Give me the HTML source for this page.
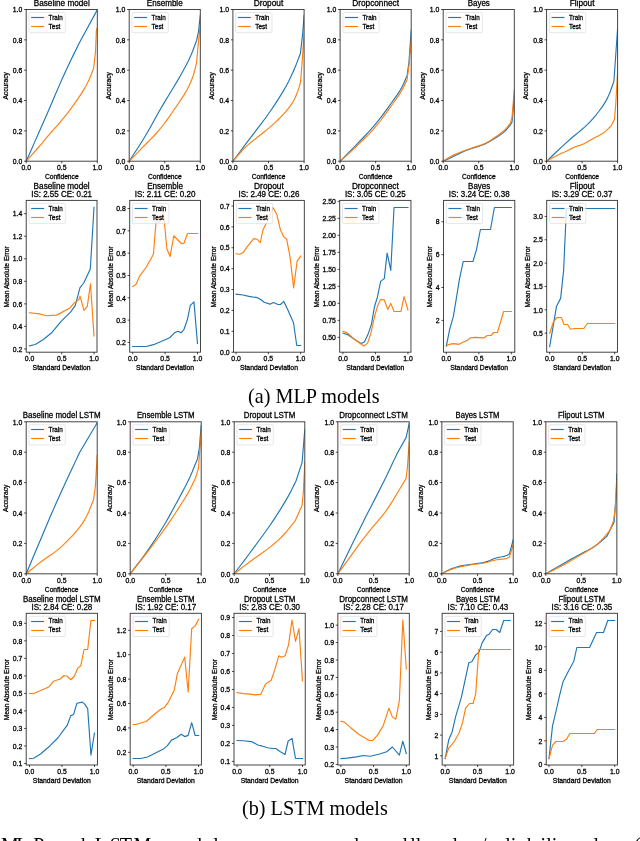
<!DOCTYPE html>
<html><head><meta charset="utf-8"><style>
html,body{margin:0;padding:0;background:#fff;}
body{width:640px;height:841px;overflow:hidden;position:relative;}
svg{position:absolute;left:0;top:0;will-change:transform;}
svg text{font-family:"Liberation Sans",sans-serif;fill:#000;stroke:#000;stroke-width:0.28px;}
svg text.serif{font-family:"Liberation Serif",serif;stroke:none;}
.cap{position:absolute;font-family:"Liberation Serif",serif;color:#000;white-space:nowrap;line-height:1;}
</style></head><body>
<svg width="640" height="841" viewBox="0 0 640 841">
<g><clipPath id="c0"><rect x="26.20" y="9.50" width="71.10" height="151.70"/></clipPath><polyline clip-path="url(#c0)" points="26.20,161.20 27.53,158.18 30.20,152.15 34.20,143.11 39.53,131.05 44.64,119.40 49.53,108.15 54.20,97.32 58.64,86.89 62.87,77.25 66.89,68.42 70.69,60.38 74.28,53.13 76.97,47.70 78.77,44.08 79.67,42.27 97.30,9.80" fill="none" stroke="#1f77b4" stroke-width="1.15" stroke-linejoin="round" stroke-linecap="square"/><polyline clip-path="url(#c0)" points="26.20,161.20 26.99,160.32 28.57,158.55 30.95,155.91 34.11,152.38 37.29,148.75 40.49,145.02 43.71,141.18 46.94,137.23 49.77,133.87 52.19,131.08 54.20,128.87 55.80,127.24 57.88,124.92 60.43,121.90 63.47,118.19 66.99,113.79 70.56,109.11 74.17,104.14 77.82,98.89 81.52,93.35 84.70,88.16 87.36,83.30 89.51,78.79 91.15,74.62 92.38,71.49 93.19,69.40 93.60,68.36 95.45,52.58 96.38,30.28 97.30,27.70" fill="none" stroke="#ff7f0e" stroke-width="1.15" stroke-linejoin="round" stroke-linecap="square"/><rect x="29.00" y="12.50" width="36.3" height="20.2" rx="1.3" fill="#fff" fill-opacity="0.8" stroke="#ccc" stroke-opacity="0.8" stroke-width="0.6"/><line x1="31.10" y1="17.50" x2="44.10" y2="17.50" stroke="#1f77b4" stroke-width="1.15" stroke-linecap="butt"/><text x="48.60" y="19.60" font-size="6.72" text-anchor="start" textLength="14.06" lengthAdjust="spacingAndGlyphs">Train</text><line x1="31.10" y1="26.50" x2="44.10" y2="26.50" stroke="#ff7f0e" stroke-width="1.15" stroke-linecap="butt"/><text x="48.60" y="28.60" font-size="6.72" text-anchor="start" textLength="11.81" lengthAdjust="spacingAndGlyphs">Test</text><rect x="26.20" y="9.50" width="71.10" height="151.70" fill="none" stroke="#3c3c3c" stroke-width="0.95"/><line x1="24.10" y1="161.20" x2="26.20" y2="161.20" stroke="#000" stroke-width="0.7"/><text x="22.30" y="163.90" font-size="6.72" text-anchor="end" textLength="9.54" lengthAdjust="spacingAndGlyphs">0.0</text><line x1="24.10" y1="130.86" x2="26.20" y2="130.86" stroke="#000" stroke-width="0.7"/><text x="22.30" y="133.56" font-size="6.72" text-anchor="end" textLength="9.54" lengthAdjust="spacingAndGlyphs">0.2</text><line x1="24.10" y1="100.52" x2="26.20" y2="100.52" stroke="#000" stroke-width="0.7"/><text x="22.30" y="103.22" font-size="6.72" text-anchor="end" textLength="9.54" lengthAdjust="spacingAndGlyphs">0.4</text><line x1="24.10" y1="70.18" x2="26.20" y2="70.18" stroke="#000" stroke-width="0.7"/><text x="22.30" y="72.88" font-size="6.72" text-anchor="end" textLength="9.54" lengthAdjust="spacingAndGlyphs">0.6</text><line x1="24.10" y1="39.84" x2="26.20" y2="39.84" stroke="#000" stroke-width="0.7"/><text x="22.30" y="42.54" font-size="6.72" text-anchor="end" textLength="9.54" lengthAdjust="spacingAndGlyphs">0.8</text><line x1="24.10" y1="9.50" x2="26.20" y2="9.50" stroke="#000" stroke-width="0.7"/><text x="22.30" y="12.20" font-size="6.72" text-anchor="end" textLength="9.54" lengthAdjust="spacingAndGlyphs">1.0</text><line x1="26.20" y1="161.20" x2="26.20" y2="163.30" stroke="#000" stroke-width="0.7"/><text x="26.20" y="170.40" font-size="6.72" text-anchor="middle" textLength="9.54" lengthAdjust="spacingAndGlyphs">0.0</text><line x1="61.75" y1="161.20" x2="61.75" y2="163.30" stroke="#000" stroke-width="0.7"/><text x="61.75" y="170.40" font-size="6.72" text-anchor="middle" textLength="9.54" lengthAdjust="spacingAndGlyphs">0.5</text><line x1="97.30" y1="161.20" x2="97.30" y2="163.30" stroke="#000" stroke-width="0.7"/><text x="97.30" y="170.40" font-size="6.72" text-anchor="middle" textLength="9.54" lengthAdjust="spacingAndGlyphs">1.0</text><text x="61.75" y="179.30" font-size="6.72" text-anchor="middle" textLength="33.74" lengthAdjust="spacingAndGlyphs">Confidence</text><text transform="translate(7.71,85.85) rotate(-90)" x="0" y="0" font-size="6.72" text-anchor="middle" textLength="27.50" lengthAdjust="spacingAndGlyphs">Accuracy</text><text x="61.75" y="6.00" font-size="8.18" text-anchor="middle" textLength="56.00" lengthAdjust="spacingAndGlyphs">Baseline model</text></g>
<g><clipPath id="c1"><rect x="129.20" y="9.50" width="71.10" height="151.70"/></clipPath><polyline clip-path="url(#c1)" points="129.20,161.20 130.22,159.63 132.27,156.48 135.33,151.76 139.42,145.46 143.47,138.94 147.49,132.19 151.47,125.21 155.42,118.00 159.48,110.81 163.66,103.62 167.95,96.44 172.36,89.28 176.36,82.62 179.95,76.48 183.13,70.84 185.90,65.72 188.39,60.78 190.59,56.02 192.51,51.45 194.15,47.05 195.38,43.75 196.19,41.55 196.60,40.45 198.45,32.10 200.30,15.42" fill="none" stroke="#1f77b4" stroke-width="1.15" stroke-linejoin="round" stroke-linecap="square"/><polyline clip-path="url(#c1)" points="129.20,161.20 130.11,160.26 131.92,158.38 134.64,155.57 138.27,151.81 142.03,147.95 145.93,143.99 149.97,139.92 154.15,135.75 158.44,130.95 162.85,125.50 167.37,119.43 172.01,112.71 175.95,106.98 179.20,102.22 181.74,98.43 183.59,95.63 185.39,92.66 187.13,89.53 188.82,86.24 190.45,82.79 191.91,79.27 193.19,75.69 194.29,72.04 195.22,68.32 195.91,65.53 196.37,63.68 196.60,62.75 198.45,41.36 200.30,24.67" fill="none" stroke="#ff7f0e" stroke-width="1.15" stroke-linejoin="round" stroke-linecap="square"/><rect x="132.00" y="12.50" width="36.3" height="20.2" rx="1.3" fill="#fff" fill-opacity="0.8" stroke="#ccc" stroke-opacity="0.8" stroke-width="0.6"/><line x1="134.10" y1="17.50" x2="147.10" y2="17.50" stroke="#1f77b4" stroke-width="1.15" stroke-linecap="butt"/><text x="151.60" y="19.60" font-size="6.72" text-anchor="start" textLength="14.06" lengthAdjust="spacingAndGlyphs">Train</text><line x1="134.10" y1="26.50" x2="147.10" y2="26.50" stroke="#ff7f0e" stroke-width="1.15" stroke-linecap="butt"/><text x="151.60" y="28.60" font-size="6.72" text-anchor="start" textLength="11.81" lengthAdjust="spacingAndGlyphs">Test</text><rect x="129.20" y="9.50" width="71.10" height="151.70" fill="none" stroke="#3c3c3c" stroke-width="0.95"/><line x1="127.10" y1="161.20" x2="129.20" y2="161.20" stroke="#000" stroke-width="0.7"/><text x="125.30" y="163.90" font-size="6.72" text-anchor="end" textLength="9.54" lengthAdjust="spacingAndGlyphs">0.0</text><line x1="127.10" y1="130.86" x2="129.20" y2="130.86" stroke="#000" stroke-width="0.7"/><text x="125.30" y="133.56" font-size="6.72" text-anchor="end" textLength="9.54" lengthAdjust="spacingAndGlyphs">0.2</text><line x1="127.10" y1="100.52" x2="129.20" y2="100.52" stroke="#000" stroke-width="0.7"/><text x="125.30" y="103.22" font-size="6.72" text-anchor="end" textLength="9.54" lengthAdjust="spacingAndGlyphs">0.4</text><line x1="127.10" y1="70.18" x2="129.20" y2="70.18" stroke="#000" stroke-width="0.7"/><text x="125.30" y="72.88" font-size="6.72" text-anchor="end" textLength="9.54" lengthAdjust="spacingAndGlyphs">0.6</text><line x1="127.10" y1="39.84" x2="129.20" y2="39.84" stroke="#000" stroke-width="0.7"/><text x="125.30" y="42.54" font-size="6.72" text-anchor="end" textLength="9.54" lengthAdjust="spacingAndGlyphs">0.8</text><line x1="127.10" y1="9.50" x2="129.20" y2="9.50" stroke="#000" stroke-width="0.7"/><text x="125.30" y="12.20" font-size="6.72" text-anchor="end" textLength="9.54" lengthAdjust="spacingAndGlyphs">1.0</text><line x1="129.20" y1="161.20" x2="129.20" y2="163.30" stroke="#000" stroke-width="0.7"/><text x="129.20" y="170.40" font-size="6.72" text-anchor="middle" textLength="9.54" lengthAdjust="spacingAndGlyphs">0.0</text><line x1="164.75" y1="161.20" x2="164.75" y2="163.30" stroke="#000" stroke-width="0.7"/><text x="164.75" y="170.40" font-size="6.72" text-anchor="middle" textLength="9.54" lengthAdjust="spacingAndGlyphs">0.5</text><line x1="200.30" y1="161.20" x2="200.30" y2="163.30" stroke="#000" stroke-width="0.7"/><text x="200.30" y="170.40" font-size="6.72" text-anchor="middle" textLength="9.54" lengthAdjust="spacingAndGlyphs">1.0</text><text x="164.75" y="179.30" font-size="6.72" text-anchor="middle" textLength="33.74" lengthAdjust="spacingAndGlyphs">Confidence</text><text transform="translate(110.71,85.85) rotate(-90)" x="0" y="0" font-size="6.72" text-anchor="middle" textLength="27.50" lengthAdjust="spacingAndGlyphs">Accuracy</text><text x="164.75" y="6.00" font-size="8.18" text-anchor="middle" textLength="35.80" lengthAdjust="spacingAndGlyphs">Ensemble</text></g>
<g><clipPath id="c2"><rect x="232.90" y="9.50" width="71.20" height="151.70"/></clipPath><polyline clip-path="url(#c2)" points="232.90,161.20 233.95,159.80 236.05,156.99 239.20,152.78 243.40,147.17 247.71,141.45 252.14,135.63 256.67,129.70 261.32,123.67 265.85,117.53 270.28,111.27 274.59,104.90 278.79,98.42 282.52,92.34 285.79,86.67 288.59,81.41 290.92,76.55 293.04,71.92 294.96,67.53 296.66,63.35 298.15,59.41 299.28,56.45 300.02,54.48 300.40,53.49 302.82,32.10 304.10,15.42" fill="none" stroke="#1f77b4" stroke-width="1.15" stroke-linejoin="round" stroke-linecap="square"/><polyline clip-path="url(#c2)" points="232.90,161.20 233.71,160.26 235.34,158.38 237.79,155.57 241.04,151.81 244.54,148.18 248.27,144.67 252.23,141.29 256.43,138.03 260.28,135.00 263.78,132.22 266.92,129.67 269.72,127.35 272.51,124.92 275.31,122.38 278.10,119.73 280.90,116.96 283.52,114.19 285.97,111.42 288.24,108.65 290.34,105.89 292.21,103.11 293.83,100.32 295.23,97.52 296.38,94.72 297.40,92.09 298.28,89.65 299.03,87.38 299.63,85.29 300.09,83.73 300.39,82.69 300.54,82.16 301.89,65.48 304.10,33.92" fill="none" stroke="#ff7f0e" stroke-width="1.15" stroke-linejoin="round" stroke-linecap="square"/><rect x="235.70" y="12.50" width="36.3" height="20.2" rx="1.3" fill="#fff" fill-opacity="0.8" stroke="#ccc" stroke-opacity="0.8" stroke-width="0.6"/><line x1="237.80" y1="17.50" x2="250.80" y2="17.50" stroke="#1f77b4" stroke-width="1.15" stroke-linecap="butt"/><text x="255.30" y="19.60" font-size="6.72" text-anchor="start" textLength="14.06" lengthAdjust="spacingAndGlyphs">Train</text><line x1="237.80" y1="26.50" x2="250.80" y2="26.50" stroke="#ff7f0e" stroke-width="1.15" stroke-linecap="butt"/><text x="255.30" y="28.60" font-size="6.72" text-anchor="start" textLength="11.81" lengthAdjust="spacingAndGlyphs">Test</text><rect x="232.90" y="9.50" width="71.20" height="151.70" fill="none" stroke="#3c3c3c" stroke-width="0.95"/><line x1="230.80" y1="161.20" x2="232.90" y2="161.20" stroke="#000" stroke-width="0.7"/><text x="229.00" y="163.90" font-size="6.72" text-anchor="end" textLength="9.54" lengthAdjust="spacingAndGlyphs">0.0</text><line x1="230.80" y1="130.86" x2="232.90" y2="130.86" stroke="#000" stroke-width="0.7"/><text x="229.00" y="133.56" font-size="6.72" text-anchor="end" textLength="9.54" lengthAdjust="spacingAndGlyphs">0.2</text><line x1="230.80" y1="100.52" x2="232.90" y2="100.52" stroke="#000" stroke-width="0.7"/><text x="229.00" y="103.22" font-size="6.72" text-anchor="end" textLength="9.54" lengthAdjust="spacingAndGlyphs">0.4</text><line x1="230.80" y1="70.18" x2="232.90" y2="70.18" stroke="#000" stroke-width="0.7"/><text x="229.00" y="72.88" font-size="6.72" text-anchor="end" textLength="9.54" lengthAdjust="spacingAndGlyphs">0.6</text><line x1="230.80" y1="39.84" x2="232.90" y2="39.84" stroke="#000" stroke-width="0.7"/><text x="229.00" y="42.54" font-size="6.72" text-anchor="end" textLength="9.54" lengthAdjust="spacingAndGlyphs">0.8</text><line x1="230.80" y1="9.50" x2="232.90" y2="9.50" stroke="#000" stroke-width="0.7"/><text x="229.00" y="12.20" font-size="6.72" text-anchor="end" textLength="9.54" lengthAdjust="spacingAndGlyphs">1.0</text><line x1="232.90" y1="161.20" x2="232.90" y2="163.30" stroke="#000" stroke-width="0.7"/><text x="232.90" y="170.40" font-size="6.72" text-anchor="middle" textLength="9.54" lengthAdjust="spacingAndGlyphs">0.0</text><line x1="268.50" y1="161.20" x2="268.50" y2="163.30" stroke="#000" stroke-width="0.7"/><text x="268.50" y="170.40" font-size="6.72" text-anchor="middle" textLength="9.54" lengthAdjust="spacingAndGlyphs">0.5</text><line x1="304.10" y1="161.20" x2="304.10" y2="163.30" stroke="#000" stroke-width="0.7"/><text x="304.10" y="170.40" font-size="6.72" text-anchor="middle" textLength="9.54" lengthAdjust="spacingAndGlyphs">1.0</text><text x="268.50" y="179.30" font-size="6.72" text-anchor="middle" textLength="33.74" lengthAdjust="spacingAndGlyphs">Confidence</text><text transform="translate(214.41,85.85) rotate(-90)" x="0" y="0" font-size="6.72" text-anchor="middle" textLength="27.50" lengthAdjust="spacingAndGlyphs">Accuracy</text><text x="268.50" y="6.00" font-size="8.18" text-anchor="middle" textLength="29.68" lengthAdjust="spacingAndGlyphs">Dropout</text></g>
<g><clipPath id="c3"><rect x="340.10" y="9.50" width="71.10" height="151.70"/></clipPath><polyline clip-path="url(#c3)" points="340.10,161.20 341.15,160.15 343.25,158.04 346.39,154.89 350.59,150.68 354.89,146.30 359.31,141.74 363.84,137.02 368.48,132.13 372.89,127.19 377.08,122.20 381.04,117.17 384.77,112.09 388.27,107.29 391.53,102.78 394.55,98.55 397.34,94.60 399.78,90.83 401.87,87.23 403.61,83.80 405.00,80.53 406.04,78.09 406.73,76.46 407.08,75.64 409.00,61.84 411.20,30.28" fill="none" stroke="#1f77b4" stroke-width="1.15" stroke-linejoin="round" stroke-linecap="square"/><polyline clip-path="url(#c3)" points="340.10,161.20 341.15,160.26 343.25,158.38 346.39,155.57 350.59,151.81 354.89,147.84 359.31,143.65 363.84,139.24 368.48,134.61 372.89,129.86 377.08,124.99 381.04,119.99 384.77,114.87 388.27,110.05 391.53,105.52 394.55,101.28 397.34,97.33 399.78,93.63 401.87,90.16 403.61,86.92 405.00,83.93 406.04,81.68 406.73,80.18 407.08,79.43 409.00,65.48 411.20,39.54" fill="none" stroke="#ff7f0e" stroke-width="1.15" stroke-linejoin="round" stroke-linecap="square"/><rect x="342.90" y="12.50" width="36.3" height="20.2" rx="1.3" fill="#fff" fill-opacity="0.8" stroke="#ccc" stroke-opacity="0.8" stroke-width="0.6"/><line x1="345.00" y1="17.50" x2="358.00" y2="17.50" stroke="#1f77b4" stroke-width="1.15" stroke-linecap="butt"/><text x="362.50" y="19.60" font-size="6.72" text-anchor="start" textLength="14.06" lengthAdjust="spacingAndGlyphs">Train</text><line x1="345.00" y1="26.50" x2="358.00" y2="26.50" stroke="#ff7f0e" stroke-width="1.15" stroke-linecap="butt"/><text x="362.50" y="28.60" font-size="6.72" text-anchor="start" textLength="11.81" lengthAdjust="spacingAndGlyphs">Test</text><rect x="340.10" y="9.50" width="71.10" height="151.70" fill="none" stroke="#3c3c3c" stroke-width="0.95"/><line x1="338.00" y1="161.20" x2="340.10" y2="161.20" stroke="#000" stroke-width="0.7"/><text x="336.20" y="163.90" font-size="6.72" text-anchor="end" textLength="9.54" lengthAdjust="spacingAndGlyphs">0.0</text><line x1="338.00" y1="130.86" x2="340.10" y2="130.86" stroke="#000" stroke-width="0.7"/><text x="336.20" y="133.56" font-size="6.72" text-anchor="end" textLength="9.54" lengthAdjust="spacingAndGlyphs">0.2</text><line x1="338.00" y1="100.52" x2="340.10" y2="100.52" stroke="#000" stroke-width="0.7"/><text x="336.20" y="103.22" font-size="6.72" text-anchor="end" textLength="9.54" lengthAdjust="spacingAndGlyphs">0.4</text><line x1="338.00" y1="70.18" x2="340.10" y2="70.18" stroke="#000" stroke-width="0.7"/><text x="336.20" y="72.88" font-size="6.72" text-anchor="end" textLength="9.54" lengthAdjust="spacingAndGlyphs">0.6</text><line x1="338.00" y1="39.84" x2="340.10" y2="39.84" stroke="#000" stroke-width="0.7"/><text x="336.20" y="42.54" font-size="6.72" text-anchor="end" textLength="9.54" lengthAdjust="spacingAndGlyphs">0.8</text><line x1="338.00" y1="9.50" x2="340.10" y2="9.50" stroke="#000" stroke-width="0.7"/><text x="336.20" y="12.20" font-size="6.72" text-anchor="end" textLength="9.54" lengthAdjust="spacingAndGlyphs">1.0</text><line x1="340.10" y1="161.20" x2="340.10" y2="163.30" stroke="#000" stroke-width="0.7"/><text x="340.10" y="170.40" font-size="6.72" text-anchor="middle" textLength="9.54" lengthAdjust="spacingAndGlyphs">0.0</text><line x1="375.65" y1="161.20" x2="375.65" y2="163.30" stroke="#000" stroke-width="0.7"/><text x="375.65" y="170.40" font-size="6.72" text-anchor="middle" textLength="9.54" lengthAdjust="spacingAndGlyphs">0.5</text><line x1="411.20" y1="161.20" x2="411.20" y2="163.30" stroke="#000" stroke-width="0.7"/><text x="411.20" y="170.40" font-size="6.72" text-anchor="middle" textLength="9.54" lengthAdjust="spacingAndGlyphs">1.0</text><text x="375.65" y="179.30" font-size="6.72" text-anchor="middle" textLength="33.74" lengthAdjust="spacingAndGlyphs">Confidence</text><text transform="translate(321.61,85.85) rotate(-90)" x="0" y="0" font-size="6.72" text-anchor="middle" textLength="27.50" lengthAdjust="spacingAndGlyphs">Accuracy</text><text x="375.65" y="6.00" font-size="8.18" text-anchor="middle" textLength="46.82" lengthAdjust="spacingAndGlyphs">Dropconnect</text></g>
<g><clipPath id="c4"><rect x="443.20" y="9.50" width="71.10" height="151.70"/></clipPath><polyline clip-path="url(#c4)" points="443.20,161.20 443.64,161.01 444.53,160.63 445.87,160.06 447.64,159.30 449.79,158.31 452.32,157.08 455.22,155.61 458.49,153.90 461.64,152.38 464.68,151.06 467.61,149.92 470.41,148.97 473.22,148.03 476.03,147.10 478.84,146.18 481.65,145.27 484.46,144.15 487.26,142.83 490.07,141.29 492.88,139.54 495.45,137.92 497.79,136.43 499.89,135.05 501.76,133.80 503.53,132.41 505.21,130.90 506.80,129.25 508.29,127.47 509.41,126.13 510.16,125.24 510.53,124.79 512.02,121.91 514.30,97.03" fill="none" stroke="#1f77b4" stroke-width="1.15" stroke-linejoin="round" stroke-linecap="square"/><polyline clip-path="url(#c4)" points="443.20,161.20 443.64,160.90 444.53,160.29 445.87,159.38 447.64,158.17 449.79,156.91 452.32,155.63 455.22,154.30 458.49,152.93 461.64,151.67 464.68,150.51 467.61,149.46 470.41,148.51 473.22,147.58 476.03,146.65 478.84,145.73 481.65,144.82 484.46,143.67 487.26,142.28 490.07,140.66 492.88,138.81 495.45,137.06 497.79,135.43 499.89,133.91 501.76,132.51 503.53,130.99 505.21,129.36 506.80,127.62 508.29,125.76 509.41,124.37 510.16,123.44 510.53,122.97 512.02,117.36 514.30,89.60" fill="none" stroke="#ff7f0e" stroke-width="1.15" stroke-linejoin="round" stroke-linecap="square"/><rect x="446.00" y="12.50" width="36.3" height="20.2" rx="1.3" fill="#fff" fill-opacity="0.8" stroke="#ccc" stroke-opacity="0.8" stroke-width="0.6"/><line x1="448.10" y1="17.50" x2="461.10" y2="17.50" stroke="#1f77b4" stroke-width="1.15" stroke-linecap="butt"/><text x="465.60" y="19.60" font-size="6.72" text-anchor="start" textLength="14.06" lengthAdjust="spacingAndGlyphs">Train</text><line x1="448.10" y1="26.50" x2="461.10" y2="26.50" stroke="#ff7f0e" stroke-width="1.15" stroke-linecap="butt"/><text x="465.60" y="28.60" font-size="6.72" text-anchor="start" textLength="11.81" lengthAdjust="spacingAndGlyphs">Test</text><rect x="443.20" y="9.50" width="71.10" height="151.70" fill="none" stroke="#3c3c3c" stroke-width="0.95"/><line x1="441.10" y1="161.20" x2="443.20" y2="161.20" stroke="#000" stroke-width="0.7"/><text x="439.30" y="163.90" font-size="6.72" text-anchor="end" textLength="9.54" lengthAdjust="spacingAndGlyphs">0.0</text><line x1="441.10" y1="130.86" x2="443.20" y2="130.86" stroke="#000" stroke-width="0.7"/><text x="439.30" y="133.56" font-size="6.72" text-anchor="end" textLength="9.54" lengthAdjust="spacingAndGlyphs">0.2</text><line x1="441.10" y1="100.52" x2="443.20" y2="100.52" stroke="#000" stroke-width="0.7"/><text x="439.30" y="103.22" font-size="6.72" text-anchor="end" textLength="9.54" lengthAdjust="spacingAndGlyphs">0.4</text><line x1="441.10" y1="70.18" x2="443.20" y2="70.18" stroke="#000" stroke-width="0.7"/><text x="439.30" y="72.88" font-size="6.72" text-anchor="end" textLength="9.54" lengthAdjust="spacingAndGlyphs">0.6</text><line x1="441.10" y1="39.84" x2="443.20" y2="39.84" stroke="#000" stroke-width="0.7"/><text x="439.30" y="42.54" font-size="6.72" text-anchor="end" textLength="9.54" lengthAdjust="spacingAndGlyphs">0.8</text><line x1="441.10" y1="9.50" x2="443.20" y2="9.50" stroke="#000" stroke-width="0.7"/><text x="439.30" y="12.20" font-size="6.72" text-anchor="end" textLength="9.54" lengthAdjust="spacingAndGlyphs">1.0</text><line x1="443.20" y1="161.20" x2="443.20" y2="163.30" stroke="#000" stroke-width="0.7"/><text x="443.20" y="170.40" font-size="6.72" text-anchor="middle" textLength="9.54" lengthAdjust="spacingAndGlyphs">0.0</text><line x1="478.75" y1="161.20" x2="478.75" y2="163.30" stroke="#000" stroke-width="0.7"/><text x="478.75" y="170.40" font-size="6.72" text-anchor="middle" textLength="9.54" lengthAdjust="spacingAndGlyphs">0.5</text><line x1="514.30" y1="161.20" x2="514.30" y2="163.30" stroke="#000" stroke-width="0.7"/><text x="514.30" y="170.40" font-size="6.72" text-anchor="middle" textLength="9.54" lengthAdjust="spacingAndGlyphs">1.0</text><text x="478.75" y="179.30" font-size="6.72" text-anchor="middle" textLength="33.74" lengthAdjust="spacingAndGlyphs">Confidence</text><text transform="translate(424.71,85.85) rotate(-90)" x="0" y="0" font-size="6.72" text-anchor="middle" textLength="27.50" lengthAdjust="spacingAndGlyphs">Accuracy</text><text x="478.75" y="6.00" font-size="8.18" text-anchor="middle" textLength="22.10" lengthAdjust="spacingAndGlyphs">Bayes</text></g>
<g><clipPath id="c5"><rect x="546.60" y="9.50" width="71.00" height="151.70"/></clipPath><polyline clip-path="url(#c5)" points="546.60,161.20 548.08,159.80 551.05,156.99 555.49,152.78 561.42,147.17 566.68,142.32 571.27,138.25 575.19,134.94 578.43,132.40 581.57,129.79 584.59,127.11 587.49,124.37 590.27,121.57 593.17,118.36 596.18,114.76 599.30,110.76 602.53,106.36 605.36,101.90 607.79,97.39 609.83,92.82 611.46,88.19 612.68,84.72 613.50,82.41 613.91,81.25 617.60,28.46" fill="none" stroke="#1f77b4" stroke-width="1.15" stroke-linejoin="round" stroke-linecap="square"/><polyline clip-path="url(#c5)" points="546.60,161.20 547.44,160.73 549.13,159.78 551.66,158.36 555.03,156.46 557.91,154.92 560.30,153.75 562.19,152.93 563.60,152.48 565.17,151.84 566.91,151.03 568.81,150.03 570.89,148.86 573.03,147.80 575.23,146.87 577.49,146.07 579.82,145.39 582.14,144.52 584.47,143.48 586.79,142.26 589.12,140.85 591.56,139.45 594.10,138.05 596.76,136.64 599.53,135.24 602.07,133.73 604.39,132.12 606.48,130.40 608.34,128.58 609.74,127.22 610.67,126.31 611.14,125.85 614.48,119.33 615.75,104.46 617.60,71.09" fill="none" stroke="#ff7f0e" stroke-width="1.15" stroke-linejoin="round" stroke-linecap="square"/><rect x="549.40" y="12.50" width="36.3" height="20.2" rx="1.3" fill="#fff" fill-opacity="0.8" stroke="#ccc" stroke-opacity="0.8" stroke-width="0.6"/><line x1="551.50" y1="17.50" x2="564.50" y2="17.50" stroke="#1f77b4" stroke-width="1.15" stroke-linecap="butt"/><text x="569.00" y="19.60" font-size="6.72" text-anchor="start" textLength="14.06" lengthAdjust="spacingAndGlyphs">Train</text><line x1="551.50" y1="26.50" x2="564.50" y2="26.50" stroke="#ff7f0e" stroke-width="1.15" stroke-linecap="butt"/><text x="569.00" y="28.60" font-size="6.72" text-anchor="start" textLength="11.81" lengthAdjust="spacingAndGlyphs">Test</text><rect x="546.60" y="9.50" width="71.00" height="151.70" fill="none" stroke="#3c3c3c" stroke-width="0.95"/><line x1="544.50" y1="161.20" x2="546.60" y2="161.20" stroke="#000" stroke-width="0.7"/><text x="542.70" y="163.90" font-size="6.72" text-anchor="end" textLength="9.54" lengthAdjust="spacingAndGlyphs">0.0</text><line x1="544.50" y1="130.86" x2="546.60" y2="130.86" stroke="#000" stroke-width="0.7"/><text x="542.70" y="133.56" font-size="6.72" text-anchor="end" textLength="9.54" lengthAdjust="spacingAndGlyphs">0.2</text><line x1="544.50" y1="100.52" x2="546.60" y2="100.52" stroke="#000" stroke-width="0.7"/><text x="542.70" y="103.22" font-size="6.72" text-anchor="end" textLength="9.54" lengthAdjust="spacingAndGlyphs">0.4</text><line x1="544.50" y1="70.18" x2="546.60" y2="70.18" stroke="#000" stroke-width="0.7"/><text x="542.70" y="72.88" font-size="6.72" text-anchor="end" textLength="9.54" lengthAdjust="spacingAndGlyphs">0.6</text><line x1="544.50" y1="39.84" x2="546.60" y2="39.84" stroke="#000" stroke-width="0.7"/><text x="542.70" y="42.54" font-size="6.72" text-anchor="end" textLength="9.54" lengthAdjust="spacingAndGlyphs">0.8</text><line x1="544.50" y1="9.50" x2="546.60" y2="9.50" stroke="#000" stroke-width="0.7"/><text x="542.70" y="12.20" font-size="6.72" text-anchor="end" textLength="9.54" lengthAdjust="spacingAndGlyphs">1.0</text><line x1="546.60" y1="161.20" x2="546.60" y2="163.30" stroke="#000" stroke-width="0.7"/><text x="546.60" y="170.40" font-size="6.72" text-anchor="middle" textLength="9.54" lengthAdjust="spacingAndGlyphs">0.0</text><line x1="582.10" y1="161.20" x2="582.10" y2="163.30" stroke="#000" stroke-width="0.7"/><text x="582.10" y="170.40" font-size="6.72" text-anchor="middle" textLength="9.54" lengthAdjust="spacingAndGlyphs">0.5</text><line x1="617.60" y1="161.20" x2="617.60" y2="163.30" stroke="#000" stroke-width="0.7"/><text x="617.60" y="170.40" font-size="6.72" text-anchor="middle" textLength="9.54" lengthAdjust="spacingAndGlyphs">1.0</text><text x="582.10" y="179.30" font-size="6.72" text-anchor="middle" textLength="33.74" lengthAdjust="spacingAndGlyphs">Confidence</text><text transform="translate(528.11,85.85) rotate(-90)" x="0" y="0" font-size="6.72" text-anchor="middle" textLength="27.50" lengthAdjust="spacingAndGlyphs">Accuracy</text><text x="582.10" y="6.00" font-size="8.18" text-anchor="middle" textLength="24.84" lengthAdjust="spacingAndGlyphs">Flipout</text></g>
<g><clipPath id="c6"><rect x="26.20" y="421.80" width="71.00" height="152.00"/></clipPath><polyline clip-path="url(#c6)" points="26.20,573.80 27.18,571.47 29.13,566.82 32.06,559.84 35.96,550.52 39.87,541.24 43.77,531.99 47.68,522.77 51.58,513.57 55.90,503.72 60.62,493.21 65.75,482.05 71.28,470.23 75.44,461.37 78.21,455.46 79.59,452.50 97.20,422.71" fill="none" stroke="#1f77b4" stroke-width="1.15" stroke-linejoin="round" stroke-linecap="square"/><polyline clip-path="url(#c6)" points="26.20,573.80 27.22,572.95 29.26,571.26 32.32,568.73 36.41,565.35 40.45,562.17 44.46,559.21 48.44,556.45 52.38,553.91 56.44,550.89 60.61,547.39 64.89,543.42 69.30,538.97 73.23,534.77 76.70,530.82 79.71,527.12 82.25,523.66 84.62,519.90 86.82,515.83 88.85,511.46 90.71,506.79 92.11,503.28 93.04,500.94 93.51,499.78 95.35,486.86 97.20,455.24" fill="none" stroke="#ff7f0e" stroke-width="1.15" stroke-linejoin="round" stroke-linecap="square"/><rect x="29.00" y="424.80" width="36.3" height="20.2" rx="1.3" fill="#fff" fill-opacity="0.8" stroke="#ccc" stroke-opacity="0.8" stroke-width="0.6"/><line x1="31.10" y1="429.50" x2="44.10" y2="429.50" stroke="#1f77b4" stroke-width="1.15" stroke-linecap="butt"/><text x="48.60" y="431.90" font-size="6.72" text-anchor="start" textLength="14.06" lengthAdjust="spacingAndGlyphs">Train</text><line x1="31.10" y1="438.50" x2="44.10" y2="438.50" stroke="#ff7f0e" stroke-width="1.15" stroke-linecap="butt"/><text x="48.60" y="440.90" font-size="6.72" text-anchor="start" textLength="11.81" lengthAdjust="spacingAndGlyphs">Test</text><rect x="26.20" y="421.80" width="71.00" height="152.00" fill="none" stroke="#3c3c3c" stroke-width="0.95"/><line x1="24.10" y1="573.80" x2="26.20" y2="573.80" stroke="#000" stroke-width="0.7"/><text x="22.30" y="576.50" font-size="6.72" text-anchor="end" textLength="9.54" lengthAdjust="spacingAndGlyphs">0.0</text><line x1="24.10" y1="543.40" x2="26.20" y2="543.40" stroke="#000" stroke-width="0.7"/><text x="22.30" y="546.10" font-size="6.72" text-anchor="end" textLength="9.54" lengthAdjust="spacingAndGlyphs">0.2</text><line x1="24.10" y1="513.00" x2="26.20" y2="513.00" stroke="#000" stroke-width="0.7"/><text x="22.30" y="515.70" font-size="6.72" text-anchor="end" textLength="9.54" lengthAdjust="spacingAndGlyphs">0.4</text><line x1="24.10" y1="482.60" x2="26.20" y2="482.60" stroke="#000" stroke-width="0.7"/><text x="22.30" y="485.30" font-size="6.72" text-anchor="end" textLength="9.54" lengthAdjust="spacingAndGlyphs">0.6</text><line x1="24.10" y1="452.20" x2="26.20" y2="452.20" stroke="#000" stroke-width="0.7"/><text x="22.30" y="454.90" font-size="6.72" text-anchor="end" textLength="9.54" lengthAdjust="spacingAndGlyphs">0.8</text><line x1="24.10" y1="421.80" x2="26.20" y2="421.80" stroke="#000" stroke-width="0.7"/><text x="22.30" y="424.50" font-size="6.72" text-anchor="end" textLength="9.54" lengthAdjust="spacingAndGlyphs">1.0</text><line x1="26.20" y1="573.80" x2="26.20" y2="575.90" stroke="#000" stroke-width="0.7"/><text x="26.20" y="583.00" font-size="6.72" text-anchor="middle" textLength="9.54" lengthAdjust="spacingAndGlyphs">0.0</text><line x1="61.70" y1="573.80" x2="61.70" y2="575.90" stroke="#000" stroke-width="0.7"/><text x="61.70" y="583.00" font-size="6.72" text-anchor="middle" textLength="9.54" lengthAdjust="spacingAndGlyphs">0.5</text><line x1="97.20" y1="573.80" x2="97.20" y2="575.90" stroke="#000" stroke-width="0.7"/><text x="97.20" y="583.00" font-size="6.72" text-anchor="middle" textLength="9.54" lengthAdjust="spacingAndGlyphs">1.0</text><text x="61.70" y="591.90" font-size="6.72" text-anchor="middle" textLength="33.74" lengthAdjust="spacingAndGlyphs">Confidence</text><text transform="translate(7.71,498.30) rotate(-90)" x="0" y="0" font-size="6.72" text-anchor="middle" textLength="27.50" lengthAdjust="spacingAndGlyphs">Accuracy</text><text x="61.70" y="418.30" font-size="8.18" text-anchor="middle" textLength="77.78" lengthAdjust="spacingAndGlyphs">Baseline model LSTM</text></g>
<g><clipPath id="c7"><rect x="130.20" y="421.80" width="71.00" height="152.00"/></clipPath><polyline clip-path="url(#c7)" points="130.20,573.80 131.34,572.32 133.61,569.35 137.02,564.91 141.56,558.98 146.01,552.90 150.37,546.67 154.63,540.28 158.80,533.75 162.69,527.46 166.28,521.42 169.59,515.62 172.60,510.07 175.62,504.52 178.63,498.95 181.63,493.37 184.63,487.79 187.40,482.31 189.95,476.96 192.27,471.71 194.37,466.58 195.94,462.74 196.98,460.17 197.51,458.89 199.35,447.79 201.20,425.45" fill="none" stroke="#1f77b4" stroke-width="1.15" stroke-linejoin="round" stroke-linecap="square"/><polyline clip-path="url(#c7)" points="130.20,573.80 131.34,572.38 133.61,569.52 137.02,565.25 141.56,559.55 146.01,553.88 150.37,548.24 154.63,542.62 158.80,537.03 162.74,531.63 166.45,526.40 169.93,521.36 173.18,516.50 176.31,511.74 179.32,507.08 182.21,502.53 184.98,498.08 187.46,493.89 189.66,489.93 191.58,486.23 193.21,482.77 194.44,480.18 195.25,478.45 195.66,477.58 198.43,468.31 200.28,444.14 201.20,431.07" fill="none" stroke="#ff7f0e" stroke-width="1.15" stroke-linejoin="round" stroke-linecap="square"/><rect x="133.00" y="424.80" width="36.3" height="20.2" rx="1.3" fill="#fff" fill-opacity="0.8" stroke="#ccc" stroke-opacity="0.8" stroke-width="0.6"/><line x1="135.10" y1="429.50" x2="148.10" y2="429.50" stroke="#1f77b4" stroke-width="1.15" stroke-linecap="butt"/><text x="152.60" y="431.90" font-size="6.72" text-anchor="start" textLength="14.06" lengthAdjust="spacingAndGlyphs">Train</text><line x1="135.10" y1="438.50" x2="148.10" y2="438.50" stroke="#ff7f0e" stroke-width="1.15" stroke-linecap="butt"/><text x="152.60" y="440.90" font-size="6.72" text-anchor="start" textLength="11.81" lengthAdjust="spacingAndGlyphs">Test</text><rect x="130.20" y="421.80" width="71.00" height="152.00" fill="none" stroke="#3c3c3c" stroke-width="0.95"/><line x1="128.10" y1="573.80" x2="130.20" y2="573.80" stroke="#000" stroke-width="0.7"/><text x="126.30" y="576.50" font-size="6.72" text-anchor="end" textLength="9.54" lengthAdjust="spacingAndGlyphs">0.0</text><line x1="128.10" y1="543.40" x2="130.20" y2="543.40" stroke="#000" stroke-width="0.7"/><text x="126.30" y="546.10" font-size="6.72" text-anchor="end" textLength="9.54" lengthAdjust="spacingAndGlyphs">0.2</text><line x1="128.10" y1="513.00" x2="130.20" y2="513.00" stroke="#000" stroke-width="0.7"/><text x="126.30" y="515.70" font-size="6.72" text-anchor="end" textLength="9.54" lengthAdjust="spacingAndGlyphs">0.4</text><line x1="128.10" y1="482.60" x2="130.20" y2="482.60" stroke="#000" stroke-width="0.7"/><text x="126.30" y="485.30" font-size="6.72" text-anchor="end" textLength="9.54" lengthAdjust="spacingAndGlyphs">0.6</text><line x1="128.10" y1="452.20" x2="130.20" y2="452.20" stroke="#000" stroke-width="0.7"/><text x="126.30" y="454.90" font-size="6.72" text-anchor="end" textLength="9.54" lengthAdjust="spacingAndGlyphs">0.8</text><line x1="128.10" y1="421.80" x2="130.20" y2="421.80" stroke="#000" stroke-width="0.7"/><text x="126.30" y="424.50" font-size="6.72" text-anchor="end" textLength="9.54" lengthAdjust="spacingAndGlyphs">1.0</text><line x1="130.20" y1="573.80" x2="130.20" y2="575.90" stroke="#000" stroke-width="0.7"/><text x="130.20" y="583.00" font-size="6.72" text-anchor="middle" textLength="9.54" lengthAdjust="spacingAndGlyphs">0.0</text><line x1="165.70" y1="573.80" x2="165.70" y2="575.90" stroke="#000" stroke-width="0.7"/><text x="165.70" y="583.00" font-size="6.72" text-anchor="middle" textLength="9.54" lengthAdjust="spacingAndGlyphs">0.5</text><line x1="201.20" y1="573.80" x2="201.20" y2="575.90" stroke="#000" stroke-width="0.7"/><text x="201.20" y="583.00" font-size="6.72" text-anchor="middle" textLength="9.54" lengthAdjust="spacingAndGlyphs">1.0</text><text x="165.70" y="591.90" font-size="6.72" text-anchor="middle" textLength="33.74" lengthAdjust="spacingAndGlyphs">Confidence</text><text transform="translate(111.71,498.30) rotate(-90)" x="0" y="0" font-size="6.72" text-anchor="middle" textLength="27.50" lengthAdjust="spacingAndGlyphs">Accuracy</text><text x="165.70" y="418.30" font-size="8.18" text-anchor="middle" textLength="57.58" lengthAdjust="spacingAndGlyphs">Ensemble LSTM</text></g>
<g><clipPath id="c8"><rect x="234.20" y="421.80" width="70.60" height="152.00"/></clipPath><polyline clip-path="url(#c8)" points="234.20,573.80 235.28,572.38 237.43,569.52 240.66,565.25 244.97,559.55 249.47,553.53 254.18,547.18 259.08,540.51 264.18,533.52 268.99,526.71 273.51,520.08 277.73,513.63 281.67,507.36 285.14,501.61 288.15,496.38 290.70,491.68 292.78,487.50 294.34,484.37 295.38,482.28 295.90,481.23 302.05,462.69 304.80,429.25" fill="none" stroke="#1f77b4" stroke-width="1.15" stroke-linejoin="round" stroke-linecap="square"/><polyline clip-path="url(#c8)" points="234.20,573.80 235.22,573.01 237.26,571.43 240.32,569.07 244.39,565.91 248.61,562.73 252.96,559.52 257.45,556.28 262.07,553.01 266.35,549.87 270.29,546.85 273.88,543.95 277.12,541.18 280.37,538.11 283.62,534.75 286.87,531.09 290.12,527.14 292.55,524.17 294.17,522.20 294.99,521.21 302.05,505.40 303.32,492.48 304.80,462.69" fill="none" stroke="#ff7f0e" stroke-width="1.15" stroke-linejoin="round" stroke-linecap="square"/><rect x="237.00" y="424.80" width="36.3" height="20.2" rx="1.3" fill="#fff" fill-opacity="0.8" stroke="#ccc" stroke-opacity="0.8" stroke-width="0.6"/><line x1="239.10" y1="429.50" x2="252.10" y2="429.50" stroke="#1f77b4" stroke-width="1.15" stroke-linecap="butt"/><text x="256.60" y="431.90" font-size="6.72" text-anchor="start" textLength="14.06" lengthAdjust="spacingAndGlyphs">Train</text><line x1="239.10" y1="438.50" x2="252.10" y2="438.50" stroke="#ff7f0e" stroke-width="1.15" stroke-linecap="butt"/><text x="256.60" y="440.90" font-size="6.72" text-anchor="start" textLength="11.81" lengthAdjust="spacingAndGlyphs">Test</text><rect x="234.20" y="421.80" width="70.60" height="152.00" fill="none" stroke="#3c3c3c" stroke-width="0.95"/><line x1="232.10" y1="573.80" x2="234.20" y2="573.80" stroke="#000" stroke-width="0.7"/><text x="230.30" y="576.50" font-size="6.72" text-anchor="end" textLength="9.54" lengthAdjust="spacingAndGlyphs">0.0</text><line x1="232.10" y1="543.40" x2="234.20" y2="543.40" stroke="#000" stroke-width="0.7"/><text x="230.30" y="546.10" font-size="6.72" text-anchor="end" textLength="9.54" lengthAdjust="spacingAndGlyphs">0.2</text><line x1="232.10" y1="513.00" x2="234.20" y2="513.00" stroke="#000" stroke-width="0.7"/><text x="230.30" y="515.70" font-size="6.72" text-anchor="end" textLength="9.54" lengthAdjust="spacingAndGlyphs">0.4</text><line x1="232.10" y1="482.60" x2="234.20" y2="482.60" stroke="#000" stroke-width="0.7"/><text x="230.30" y="485.30" font-size="6.72" text-anchor="end" textLength="9.54" lengthAdjust="spacingAndGlyphs">0.6</text><line x1="232.10" y1="452.20" x2="234.20" y2="452.20" stroke="#000" stroke-width="0.7"/><text x="230.30" y="454.90" font-size="6.72" text-anchor="end" textLength="9.54" lengthAdjust="spacingAndGlyphs">0.8</text><line x1="232.10" y1="421.80" x2="234.20" y2="421.80" stroke="#000" stroke-width="0.7"/><text x="230.30" y="424.50" font-size="6.72" text-anchor="end" textLength="9.54" lengthAdjust="spacingAndGlyphs">1.0</text><line x1="234.20" y1="573.80" x2="234.20" y2="575.90" stroke="#000" stroke-width="0.7"/><text x="234.20" y="583.00" font-size="6.72" text-anchor="middle" textLength="9.54" lengthAdjust="spacingAndGlyphs">0.0</text><line x1="269.50" y1="573.80" x2="269.50" y2="575.90" stroke="#000" stroke-width="0.7"/><text x="269.50" y="583.00" font-size="6.72" text-anchor="middle" textLength="9.54" lengthAdjust="spacingAndGlyphs">0.5</text><line x1="304.80" y1="573.80" x2="304.80" y2="575.90" stroke="#000" stroke-width="0.7"/><text x="304.80" y="583.00" font-size="6.72" text-anchor="middle" textLength="9.54" lengthAdjust="spacingAndGlyphs">1.0</text><text x="269.50" y="591.90" font-size="6.72" text-anchor="middle" textLength="33.74" lengthAdjust="spacingAndGlyphs">Confidence</text><text transform="translate(215.71,498.30) rotate(-90)" x="0" y="0" font-size="6.72" text-anchor="middle" textLength="27.50" lengthAdjust="spacingAndGlyphs">Accuracy</text><text x="269.50" y="418.30" font-size="8.18" text-anchor="middle" textLength="51.46" lengthAdjust="spacingAndGlyphs">Dropout LSTM</text></g>
<g><clipPath id="c9"><rect x="337.85" y="421.80" width="71.35" height="152.00"/></clipPath><polyline clip-path="url(#c9)" points="337.85,573.80 339.47,570.46 342.72,563.77 347.59,553.74 354.08,540.36 360.22,527.89 366.01,516.32 371.45,505.65 376.53,495.88 381.15,486.82 385.32,478.46 389.03,470.80 392.27,463.85 394.71,458.63 396.33,455.15 397.14,453.42 406.06,437.61 409.20,423.62" fill="none" stroke="#1f77b4" stroke-width="1.15" stroke-linejoin="round" stroke-linecap="square"/><polyline clip-path="url(#c9)" points="337.85,573.80 338.43,573.01 339.59,571.43 341.33,569.07 343.65,565.91 346.55,561.92 350.02,557.10 354.08,551.44 358.72,544.94 363.35,538.73 367.98,532.80 372.61,527.15 377.23,521.80 381.15,517.08 384.39,513.02 386.94,509.60 388.79,506.82 390.71,503.87 392.68,500.74 394.71,497.42 396.79,493.92 398.36,491.30 399.40,489.55 399.92,488.68 406.06,478.50 407.34,468.31 409.20,442.17" fill="none" stroke="#ff7f0e" stroke-width="1.15" stroke-linejoin="round" stroke-linecap="square"/><rect x="340.65" y="424.80" width="36.3" height="20.2" rx="1.3" fill="#fff" fill-opacity="0.8" stroke="#ccc" stroke-opacity="0.8" stroke-width="0.6"/><line x1="342.75" y1="429.50" x2="355.75" y2="429.50" stroke="#1f77b4" stroke-width="1.15" stroke-linecap="butt"/><text x="360.25" y="431.90" font-size="6.72" text-anchor="start" textLength="14.06" lengthAdjust="spacingAndGlyphs">Train</text><line x1="342.75" y1="438.50" x2="355.75" y2="438.50" stroke="#ff7f0e" stroke-width="1.15" stroke-linecap="butt"/><text x="360.25" y="440.90" font-size="6.72" text-anchor="start" textLength="11.81" lengthAdjust="spacingAndGlyphs">Test</text><rect x="337.85" y="421.80" width="71.35" height="152.00" fill="none" stroke="#3c3c3c" stroke-width="0.95"/><line x1="335.75" y1="573.80" x2="337.85" y2="573.80" stroke="#000" stroke-width="0.7"/><text x="333.95" y="576.50" font-size="6.72" text-anchor="end" textLength="9.54" lengthAdjust="spacingAndGlyphs">0.0</text><line x1="335.75" y1="543.40" x2="337.85" y2="543.40" stroke="#000" stroke-width="0.7"/><text x="333.95" y="546.10" font-size="6.72" text-anchor="end" textLength="9.54" lengthAdjust="spacingAndGlyphs">0.2</text><line x1="335.75" y1="513.00" x2="337.85" y2="513.00" stroke="#000" stroke-width="0.7"/><text x="333.95" y="515.70" font-size="6.72" text-anchor="end" textLength="9.54" lengthAdjust="spacingAndGlyphs">0.4</text><line x1="335.75" y1="482.60" x2="337.85" y2="482.60" stroke="#000" stroke-width="0.7"/><text x="333.95" y="485.30" font-size="6.72" text-anchor="end" textLength="9.54" lengthAdjust="spacingAndGlyphs">0.6</text><line x1="335.75" y1="452.20" x2="337.85" y2="452.20" stroke="#000" stroke-width="0.7"/><text x="333.95" y="454.90" font-size="6.72" text-anchor="end" textLength="9.54" lengthAdjust="spacingAndGlyphs">0.8</text><line x1="335.75" y1="421.80" x2="337.85" y2="421.80" stroke="#000" stroke-width="0.7"/><text x="333.95" y="424.50" font-size="6.72" text-anchor="end" textLength="9.54" lengthAdjust="spacingAndGlyphs">1.0</text><line x1="337.85" y1="573.80" x2="337.85" y2="575.90" stroke="#000" stroke-width="0.7"/><text x="337.85" y="583.00" font-size="6.72" text-anchor="middle" textLength="9.54" lengthAdjust="spacingAndGlyphs">0.0</text><line x1="373.52" y1="573.80" x2="373.52" y2="575.90" stroke="#000" stroke-width="0.7"/><text x="373.52" y="583.00" font-size="6.72" text-anchor="middle" textLength="9.54" lengthAdjust="spacingAndGlyphs">0.5</text><line x1="409.20" y1="573.80" x2="409.20" y2="575.90" stroke="#000" stroke-width="0.7"/><text x="409.20" y="583.00" font-size="6.72" text-anchor="middle" textLength="9.54" lengthAdjust="spacingAndGlyphs">1.0</text><text x="373.52" y="591.90" font-size="6.72" text-anchor="middle" textLength="33.74" lengthAdjust="spacingAndGlyphs">Confidence</text><text transform="translate(319.36,498.30) rotate(-90)" x="0" y="0" font-size="6.72" text-anchor="middle" textLength="27.50" lengthAdjust="spacingAndGlyphs">Accuracy</text><text x="373.52" y="418.30" font-size="8.18" text-anchor="middle" textLength="68.60" lengthAdjust="spacingAndGlyphs">Dropconnect LSTM</text></g>
<g><clipPath id="c10"><rect x="441.85" y="421.80" width="71.35" height="152.00"/></clipPath><polyline clip-path="url(#c10)" points="441.85,573.80 442.43,573.48 443.59,572.83 445.33,571.86 447.65,570.57 450.08,569.40 452.63,568.36 455.30,567.43 458.08,566.64 461.10,565.91 464.34,565.27 467.82,564.70 471.53,564.20 474.89,563.75 477.90,563.33 480.55,562.95 482.85,562.61 485.15,562.09 487.46,561.38 489.78,560.50 492.10,559.44 494.48,558.53 496.91,557.79 499.40,557.21 501.95,556.79 504.10,556.33 505.84,555.82 507.17,555.26 508.10,554.65 508.79,554.19 509.26,553.89 509.49,553.74 513.20,539.75" fill="none" stroke="#1f77b4" stroke-width="1.15" stroke-linejoin="round" stroke-linecap="square"/><polyline clip-path="url(#c10)" points="441.85,573.80 442.43,573.51 443.59,572.92 445.33,572.03 447.65,570.85 450.08,569.79 452.63,568.84 455.30,568.00 458.08,567.28 461.10,566.60 464.34,565.95 467.82,565.34 471.53,564.77 474.89,564.27 477.90,563.83 480.55,563.46 482.85,563.16 485.15,562.74 487.46,562.21 489.78,561.56 492.10,560.80 494.48,560.19 496.91,559.71 499.40,559.38 501.95,559.19 504.10,558.93 505.84,558.61 507.17,558.22 508.10,557.76 508.79,557.42 509.26,557.19 509.49,557.08 513.20,544.46" fill="none" stroke="#ff7f0e" stroke-width="1.15" stroke-linejoin="round" stroke-linecap="square"/><rect x="444.65" y="424.80" width="36.3" height="20.2" rx="1.3" fill="#fff" fill-opacity="0.8" stroke="#ccc" stroke-opacity="0.8" stroke-width="0.6"/><line x1="446.75" y1="429.50" x2="459.75" y2="429.50" stroke="#1f77b4" stroke-width="1.15" stroke-linecap="butt"/><text x="464.25" y="431.90" font-size="6.72" text-anchor="start" textLength="14.06" lengthAdjust="spacingAndGlyphs">Train</text><line x1="446.75" y1="438.50" x2="459.75" y2="438.50" stroke="#ff7f0e" stroke-width="1.15" stroke-linecap="butt"/><text x="464.25" y="440.90" font-size="6.72" text-anchor="start" textLength="11.81" lengthAdjust="spacingAndGlyphs">Test</text><rect x="441.85" y="421.80" width="71.35" height="152.00" fill="none" stroke="#3c3c3c" stroke-width="0.95"/><line x1="439.75" y1="573.80" x2="441.85" y2="573.80" stroke="#000" stroke-width="0.7"/><text x="437.95" y="576.50" font-size="6.72" text-anchor="end" textLength="9.54" lengthAdjust="spacingAndGlyphs">0.0</text><line x1="439.75" y1="543.40" x2="441.85" y2="543.40" stroke="#000" stroke-width="0.7"/><text x="437.95" y="546.10" font-size="6.72" text-anchor="end" textLength="9.54" lengthAdjust="spacingAndGlyphs">0.2</text><line x1="439.75" y1="513.00" x2="441.85" y2="513.00" stroke="#000" stroke-width="0.7"/><text x="437.95" y="515.70" font-size="6.72" text-anchor="end" textLength="9.54" lengthAdjust="spacingAndGlyphs">0.4</text><line x1="439.75" y1="482.60" x2="441.85" y2="482.60" stroke="#000" stroke-width="0.7"/><text x="437.95" y="485.30" font-size="6.72" text-anchor="end" textLength="9.54" lengthAdjust="spacingAndGlyphs">0.6</text><line x1="439.75" y1="452.20" x2="441.85" y2="452.20" stroke="#000" stroke-width="0.7"/><text x="437.95" y="454.90" font-size="6.72" text-anchor="end" textLength="9.54" lengthAdjust="spacingAndGlyphs">0.8</text><line x1="439.75" y1="421.80" x2="441.85" y2="421.80" stroke="#000" stroke-width="0.7"/><text x="437.95" y="424.50" font-size="6.72" text-anchor="end" textLength="9.54" lengthAdjust="spacingAndGlyphs">1.0</text><line x1="441.85" y1="573.80" x2="441.85" y2="575.90" stroke="#000" stroke-width="0.7"/><text x="441.85" y="583.00" font-size="6.72" text-anchor="middle" textLength="9.54" lengthAdjust="spacingAndGlyphs">0.0</text><line x1="477.53" y1="573.80" x2="477.53" y2="575.90" stroke="#000" stroke-width="0.7"/><text x="477.53" y="583.00" font-size="6.72" text-anchor="middle" textLength="9.54" lengthAdjust="spacingAndGlyphs">0.5</text><line x1="513.20" y1="573.80" x2="513.20" y2="575.90" stroke="#000" stroke-width="0.7"/><text x="513.20" y="583.00" font-size="6.72" text-anchor="middle" textLength="9.54" lengthAdjust="spacingAndGlyphs">1.0</text><text x="477.53" y="591.90" font-size="6.72" text-anchor="middle" textLength="33.74" lengthAdjust="spacingAndGlyphs">Confidence</text><text transform="translate(423.36,498.30) rotate(-90)" x="0" y="0" font-size="6.72" text-anchor="middle" textLength="27.50" lengthAdjust="spacingAndGlyphs">Accuracy</text><text x="477.53" y="418.30" font-size="8.18" text-anchor="middle" textLength="43.87" lengthAdjust="spacingAndGlyphs">Bayes LSTM</text></g>
<g><clipPath id="c11"><rect x="545.85" y="421.80" width="71.00" height="152.00"/></clipPath><polyline clip-path="url(#c11)" points="545.85,573.80 546.89,573.18 548.98,571.95 552.11,570.09 556.28,567.62 560.56,565.14 564.97,562.63 569.48,560.10 574.12,557.55 578.29,555.29 582.00,553.32 585.25,551.63 588.03,550.22 590.58,548.82 592.90,547.44 594.98,546.06 596.83,544.69 598.68,543.26 600.53,541.76 602.39,540.19 604.26,538.55 605.65,537.33 606.59,536.51 607.05,536.10 614.08,522.12 615.93,497.95 616.85,473.78" fill="none" stroke="#1f77b4" stroke-width="1.15" stroke-linejoin="round" stroke-linecap="square"/><polyline clip-path="url(#c11)" points="545.85,573.80 546.89,573.30 548.98,572.29 552.11,570.78 556.28,568.76 560.56,566.56 564.97,564.17 569.48,561.58 574.12,558.81 578.29,556.32 582.00,554.12 585.25,552.20 588.03,550.56 590.58,549.00 592.90,547.49 594.98,546.06 596.83,544.69 598.85,542.91 601.04,540.70 603.40,538.08 605.94,535.04 607.85,532.76 609.12,531.24 609.75,530.48 613.51,521.21 615.36,507.22 616.85,481.23" fill="none" stroke="#ff7f0e" stroke-width="1.15" stroke-linejoin="round" stroke-linecap="square"/><rect x="548.65" y="424.80" width="36.3" height="20.2" rx="1.3" fill="#fff" fill-opacity="0.8" stroke="#ccc" stroke-opacity="0.8" stroke-width="0.6"/><line x1="550.75" y1="429.50" x2="563.75" y2="429.50" stroke="#1f77b4" stroke-width="1.15" stroke-linecap="butt"/><text x="568.25" y="431.90" font-size="6.72" text-anchor="start" textLength="14.06" lengthAdjust="spacingAndGlyphs">Train</text><line x1="550.75" y1="438.50" x2="563.75" y2="438.50" stroke="#ff7f0e" stroke-width="1.15" stroke-linecap="butt"/><text x="568.25" y="440.90" font-size="6.72" text-anchor="start" textLength="11.81" lengthAdjust="spacingAndGlyphs">Test</text><rect x="545.85" y="421.80" width="71.00" height="152.00" fill="none" stroke="#3c3c3c" stroke-width="0.95"/><line x1="543.75" y1="573.80" x2="545.85" y2="573.80" stroke="#000" stroke-width="0.7"/><text x="541.95" y="576.50" font-size="6.72" text-anchor="end" textLength="9.54" lengthAdjust="spacingAndGlyphs">0.0</text><line x1="543.75" y1="543.40" x2="545.85" y2="543.40" stroke="#000" stroke-width="0.7"/><text x="541.95" y="546.10" font-size="6.72" text-anchor="end" textLength="9.54" lengthAdjust="spacingAndGlyphs">0.2</text><line x1="543.75" y1="513.00" x2="545.85" y2="513.00" stroke="#000" stroke-width="0.7"/><text x="541.95" y="515.70" font-size="6.72" text-anchor="end" textLength="9.54" lengthAdjust="spacingAndGlyphs">0.4</text><line x1="543.75" y1="482.60" x2="545.85" y2="482.60" stroke="#000" stroke-width="0.7"/><text x="541.95" y="485.30" font-size="6.72" text-anchor="end" textLength="9.54" lengthAdjust="spacingAndGlyphs">0.6</text><line x1="543.75" y1="452.20" x2="545.85" y2="452.20" stroke="#000" stroke-width="0.7"/><text x="541.95" y="454.90" font-size="6.72" text-anchor="end" textLength="9.54" lengthAdjust="spacingAndGlyphs">0.8</text><line x1="543.75" y1="421.80" x2="545.85" y2="421.80" stroke="#000" stroke-width="0.7"/><text x="541.95" y="424.50" font-size="6.72" text-anchor="end" textLength="9.54" lengthAdjust="spacingAndGlyphs">1.0</text><line x1="545.85" y1="573.80" x2="545.85" y2="575.90" stroke="#000" stroke-width="0.7"/><text x="545.85" y="583.00" font-size="6.72" text-anchor="middle" textLength="9.54" lengthAdjust="spacingAndGlyphs">0.0</text><line x1="581.35" y1="573.80" x2="581.35" y2="575.90" stroke="#000" stroke-width="0.7"/><text x="581.35" y="583.00" font-size="6.72" text-anchor="middle" textLength="9.54" lengthAdjust="spacingAndGlyphs">0.5</text><line x1="616.85" y1="573.80" x2="616.85" y2="575.90" stroke="#000" stroke-width="0.7"/><text x="616.85" y="583.00" font-size="6.72" text-anchor="middle" textLength="9.54" lengthAdjust="spacingAndGlyphs">1.0</text><text x="581.35" y="591.90" font-size="6.72" text-anchor="middle" textLength="33.74" lengthAdjust="spacingAndGlyphs">Confidence</text><text transform="translate(527.36,498.30) rotate(-90)" x="0" y="0" font-size="6.72" text-anchor="middle" textLength="27.50" lengthAdjust="spacingAndGlyphs">Accuracy</text><text x="581.35" y="418.30" font-size="8.18" text-anchor="middle" textLength="46.62" lengthAdjust="spacingAndGlyphs">Flipout LSTM</text></g>
<g><clipPath id="c12"><rect x="26.22" y="200.40" width="70.78" height="151.80"/></clipPath><polyline clip-path="url(#c12)" points="29.47,345.90 35.21,344.55 42.70,339.93 51.99,332.48 61.34,321.21 70.70,311.85 75.34,305.43 79.99,287.61 83.73,282.99 90.31,269.01 93.99,207.34" fill="none" stroke="#1f77b4" stroke-width="1.15" stroke-linejoin="round" stroke-linecap="square"/><polyline clip-path="url(#c12)" points="29.47,312.75 39.47,313.88 46.25,315.80 56.57,315.12 69.47,308.36 74.25,302.94 78.89,299.56 80.05,296.07 83.99,310.39 87.28,306.44 90.50,283.78 93.99,335.98" fill="none" stroke="#ff7f0e" stroke-width="1.15" stroke-linejoin="round" stroke-linecap="square"/><rect x="29.02" y="203.40" width="36.3" height="20.2" rx="1.3" fill="#fff" fill-opacity="0.8" stroke="#ccc" stroke-opacity="0.8" stroke-width="0.6"/><line x1="31.12" y1="208.50" x2="44.12" y2="208.50" stroke="#1f77b4" stroke-width="1.15" stroke-linecap="butt"/><text x="48.62" y="210.50" font-size="6.72" text-anchor="start" textLength="14.06" lengthAdjust="spacingAndGlyphs">Train</text><line x1="31.12" y1="217.50" x2="44.12" y2="217.50" stroke="#ff7f0e" stroke-width="1.15" stroke-linecap="butt"/><text x="48.62" y="219.50" font-size="6.72" text-anchor="start" textLength="11.81" lengthAdjust="spacingAndGlyphs">Test</text><rect x="26.22" y="200.40" width="70.78" height="151.80" fill="none" stroke="#3c3c3c" stroke-width="0.95"/><line x1="24.12" y1="348.95" x2="26.22" y2="348.95" stroke="#000" stroke-width="0.7"/><text x="22.32" y="351.65" font-size="6.72" text-anchor="end" textLength="9.54" lengthAdjust="spacingAndGlyphs">0.2</text><line x1="24.12" y1="326.40" x2="26.22" y2="326.40" stroke="#000" stroke-width="0.7"/><text x="22.32" y="329.10" font-size="6.72" text-anchor="end" textLength="9.54" lengthAdjust="spacingAndGlyphs">0.4</text><line x1="24.12" y1="303.85" x2="26.22" y2="303.85" stroke="#000" stroke-width="0.7"/><text x="22.32" y="306.55" font-size="6.72" text-anchor="end" textLength="9.54" lengthAdjust="spacingAndGlyphs">0.6</text><line x1="24.12" y1="281.30" x2="26.22" y2="281.30" stroke="#000" stroke-width="0.7"/><text x="22.32" y="284.00" font-size="6.72" text-anchor="end" textLength="9.54" lengthAdjust="spacingAndGlyphs">0.8</text><line x1="24.12" y1="258.75" x2="26.22" y2="258.75" stroke="#000" stroke-width="0.7"/><text x="22.32" y="261.45" font-size="6.72" text-anchor="end" textLength="9.54" lengthAdjust="spacingAndGlyphs">1.0</text><line x1="24.12" y1="236.20" x2="26.22" y2="236.20" stroke="#000" stroke-width="0.7"/><text x="22.32" y="238.90" font-size="6.72" text-anchor="end" textLength="9.54" lengthAdjust="spacingAndGlyphs">1.2</text><line x1="24.12" y1="213.65" x2="26.22" y2="213.65" stroke="#000" stroke-width="0.7"/><text x="22.32" y="216.35" font-size="6.72" text-anchor="end" textLength="9.54" lengthAdjust="spacingAndGlyphs">1.4</text><line x1="29.47" y1="352.20" x2="29.47" y2="354.30" stroke="#000" stroke-width="0.7"/><text x="29.47" y="361.40" font-size="6.72" text-anchor="middle" textLength="9.54" lengthAdjust="spacingAndGlyphs">0.0</text><line x1="61.73" y1="352.20" x2="61.73" y2="354.30" stroke="#000" stroke-width="0.7"/><text x="61.73" y="361.40" font-size="6.72" text-anchor="middle" textLength="9.54" lengthAdjust="spacingAndGlyphs">0.5</text><line x1="93.99" y1="352.20" x2="93.99" y2="354.30" stroke="#000" stroke-width="0.7"/><text x="93.99" y="361.40" font-size="6.72" text-anchor="middle" textLength="9.54" lengthAdjust="spacingAndGlyphs">1.0</text><text x="61.61" y="370.30" font-size="6.72" text-anchor="middle" textLength="58.01" lengthAdjust="spacingAndGlyphs">Standard Deviation</text><text transform="translate(9.13,276.80) rotate(-90)" x="0" y="0" font-size="6.72" text-anchor="middle" textLength="61.25" lengthAdjust="spacingAndGlyphs">Mean Absolute Error</text><text x="61.61" y="188.60" font-size="8.18" text-anchor="middle" textLength="56.00" lengthAdjust="spacingAndGlyphs">Baseline model</text><text x="61.61" y="196.90" font-size="8.18" text-anchor="middle" textLength="60.88" lengthAdjust="spacingAndGlyphs">IS: 2.55 CE: 0.21</text></g>
<g><clipPath id="c13"><rect x="129.70" y="200.40" width="70.78" height="151.80"/></clipPath><polyline clip-path="url(#c13)" points="132.72,346.50 146.32,346.50 153.44,344.68 160.56,341.78 169.63,337.76 174.16,333.07 177.72,331.29 181.28,332.63 183.87,329.73 187.50,319.24 190.35,305.40 193.97,301.83 197.47,343.56" fill="none" stroke="#1f77b4" stroke-width="1.15" stroke-linejoin="round" stroke-linecap="square"/><polyline clip-path="url(#c13)" points="132.72,286.43 135.96,284.42 139.46,276.39 146.32,267.02 153.44,254.29 156.10,220.60 159.53,222.16 163.41,211.45 166.84,248.72 170.08,256.53 173.77,235.77 181.28,243.50 183.87,243.50 187.50,233.50 197.47,233.50" fill="none" stroke="#ff7f0e" stroke-width="1.15" stroke-linejoin="round" stroke-linecap="square"/><rect x="132.50" y="203.40" width="36.3" height="20.2" rx="1.3" fill="#fff" fill-opacity="0.8" stroke="#ccc" stroke-opacity="0.8" stroke-width="0.6"/><line x1="134.60" y1="208.50" x2="147.60" y2="208.50" stroke="#1f77b4" stroke-width="1.15" stroke-linecap="butt"/><text x="152.10" y="210.50" font-size="6.72" text-anchor="start" textLength="14.06" lengthAdjust="spacingAndGlyphs">Train</text><line x1="134.60" y1="217.50" x2="147.60" y2="217.50" stroke="#ff7f0e" stroke-width="1.15" stroke-linecap="butt"/><text x="152.10" y="219.50" font-size="6.72" text-anchor="start" textLength="11.81" lengthAdjust="spacingAndGlyphs">Test</text><rect x="129.70" y="200.40" width="70.78" height="151.80" fill="none" stroke="#3c3c3c" stroke-width="0.95"/><line x1="127.60" y1="342.45" x2="129.70" y2="342.45" stroke="#000" stroke-width="0.7"/><text x="125.80" y="345.15" font-size="6.72" text-anchor="end" textLength="9.54" lengthAdjust="spacingAndGlyphs">0.2</text><line x1="127.60" y1="320.13" x2="129.70" y2="320.13" stroke="#000" stroke-width="0.7"/><text x="125.80" y="322.83" font-size="6.72" text-anchor="end" textLength="9.54" lengthAdjust="spacingAndGlyphs">0.3</text><line x1="127.60" y1="297.81" x2="129.70" y2="297.81" stroke="#000" stroke-width="0.7"/><text x="125.80" y="300.51" font-size="6.72" text-anchor="end" textLength="9.54" lengthAdjust="spacingAndGlyphs">0.4</text><line x1="127.60" y1="275.50" x2="129.70" y2="275.50" stroke="#000" stroke-width="0.7"/><text x="125.80" y="278.20" font-size="6.72" text-anchor="end" textLength="9.54" lengthAdjust="spacingAndGlyphs">0.5</text><line x1="127.60" y1="253.18" x2="129.70" y2="253.18" stroke="#000" stroke-width="0.7"/><text x="125.80" y="255.88" font-size="6.72" text-anchor="end" textLength="9.54" lengthAdjust="spacingAndGlyphs">0.6</text><line x1="127.60" y1="230.86" x2="129.70" y2="230.86" stroke="#000" stroke-width="0.7"/><text x="125.80" y="233.56" font-size="6.72" text-anchor="end" textLength="9.54" lengthAdjust="spacingAndGlyphs">0.7</text><line x1="127.60" y1="208.54" x2="129.70" y2="208.54" stroke="#000" stroke-width="0.7"/><text x="125.80" y="211.24" font-size="6.72" text-anchor="end" textLength="9.54" lengthAdjust="spacingAndGlyphs">0.8</text><line x1="132.72" y1="352.20" x2="132.72" y2="354.30" stroke="#000" stroke-width="0.7"/><text x="132.72" y="361.40" font-size="6.72" text-anchor="middle" textLength="9.54" lengthAdjust="spacingAndGlyphs">0.0</text><line x1="165.09" y1="352.20" x2="165.09" y2="354.30" stroke="#000" stroke-width="0.7"/><text x="165.09" y="361.40" font-size="6.72" text-anchor="middle" textLength="9.54" lengthAdjust="spacingAndGlyphs">0.5</text><line x1="197.47" y1="352.20" x2="197.47" y2="354.30" stroke="#000" stroke-width="0.7"/><text x="197.47" y="361.40" font-size="6.72" text-anchor="middle" textLength="9.54" lengthAdjust="spacingAndGlyphs">1.0</text><text x="165.09" y="370.30" font-size="6.72" text-anchor="middle" textLength="58.01" lengthAdjust="spacingAndGlyphs">Standard Deviation</text><text transform="translate(112.61,276.80) rotate(-90)" x="0" y="0" font-size="6.72" text-anchor="middle" textLength="61.25" lengthAdjust="spacingAndGlyphs">Mean Absolute Error</text><text x="165.09" y="188.60" font-size="8.18" text-anchor="middle" textLength="35.80" lengthAdjust="spacingAndGlyphs">Ensemble</text><text x="165.09" y="196.90" font-size="8.18" text-anchor="middle" textLength="60.88" lengthAdjust="spacingAndGlyphs">IS: 2.11 CE: 0.20</text></g>
<g><clipPath id="c14"><rect x="233.54" y="200.40" width="70.78" height="151.80"/></clipPath><polyline clip-path="url(#c14)" points="236.10,294.13 243.19,294.97 249.00,296.43 257.39,297.68 260.61,299.56 264.16,302.28 269.97,304.16 273.52,302.49 278.03,304.50 280.42,304.50 283.84,301.44 288.35,311.05 293.52,322.74 296.74,345.50 300.61,345.50" fill="none" stroke="#1f77b4" stroke-width="1.15" stroke-linejoin="round" stroke-linecap="square"/><polyline clip-path="url(#c14)" points="236.10,253.82 239.84,254.24 243.19,252.57 246.74,247.35 253.71,238.57 257.19,239.20 260.23,242.75 263.00,229.80 267.71,220.61 273.00,207.45 276.93,214.76 280.42,229.80 283.84,236.90 286.68,239.20 289.97,256.54 293.64,287.86 297.13,261.13 300.61,256.12" fill="none" stroke="#ff7f0e" stroke-width="1.15" stroke-linejoin="round" stroke-linecap="square"/><rect x="236.34" y="203.40" width="36.3" height="20.2" rx="1.3" fill="#fff" fill-opacity="0.8" stroke="#ccc" stroke-opacity="0.8" stroke-width="0.6"/><line x1="238.44" y1="208.50" x2="251.44" y2="208.50" stroke="#1f77b4" stroke-width="1.15" stroke-linecap="butt"/><text x="255.94" y="210.50" font-size="6.72" text-anchor="start" textLength="14.06" lengthAdjust="spacingAndGlyphs">Train</text><line x1="238.44" y1="217.50" x2="251.44" y2="217.50" stroke="#ff7f0e" stroke-width="1.15" stroke-linecap="butt"/><text x="255.94" y="219.50" font-size="6.72" text-anchor="start" textLength="11.81" lengthAdjust="spacingAndGlyphs">Test</text><rect x="233.54" y="200.40" width="70.78" height="151.80" fill="none" stroke="#3c3c3c" stroke-width="0.95"/><line x1="231.44" y1="352.19" x2="233.54" y2="352.19" stroke="#000" stroke-width="0.7"/><text x="229.64" y="354.89" font-size="6.72" text-anchor="end" textLength="9.54" lengthAdjust="spacingAndGlyphs">0.0</text><line x1="231.44" y1="331.31" x2="233.54" y2="331.31" stroke="#000" stroke-width="0.7"/><text x="229.64" y="334.01" font-size="6.72" text-anchor="end" textLength="9.54" lengthAdjust="spacingAndGlyphs">0.1</text><line x1="231.44" y1="310.42" x2="233.54" y2="310.42" stroke="#000" stroke-width="0.7"/><text x="229.64" y="313.12" font-size="6.72" text-anchor="end" textLength="9.54" lengthAdjust="spacingAndGlyphs">0.2</text><line x1="231.44" y1="289.54" x2="233.54" y2="289.54" stroke="#000" stroke-width="0.7"/><text x="229.64" y="292.24" font-size="6.72" text-anchor="end" textLength="9.54" lengthAdjust="spacingAndGlyphs">0.3</text><line x1="231.44" y1="268.65" x2="233.54" y2="268.65" stroke="#000" stroke-width="0.7"/><text x="229.64" y="271.35" font-size="6.72" text-anchor="end" textLength="9.54" lengthAdjust="spacingAndGlyphs">0.4</text><line x1="231.44" y1="247.76" x2="233.54" y2="247.76" stroke="#000" stroke-width="0.7"/><text x="229.64" y="250.46" font-size="6.72" text-anchor="end" textLength="9.54" lengthAdjust="spacingAndGlyphs">0.5</text><line x1="231.44" y1="226.88" x2="233.54" y2="226.88" stroke="#000" stroke-width="0.7"/><text x="229.64" y="229.58" font-size="6.72" text-anchor="end" textLength="9.54" lengthAdjust="spacingAndGlyphs">0.6</text><line x1="231.44" y1="205.99" x2="233.54" y2="205.99" stroke="#000" stroke-width="0.7"/><text x="229.64" y="208.69" font-size="6.72" text-anchor="end" textLength="9.54" lengthAdjust="spacingAndGlyphs">0.7</text><line x1="236.10" y1="352.20" x2="236.10" y2="354.30" stroke="#000" stroke-width="0.7"/><text x="236.10" y="361.40" font-size="6.72" text-anchor="middle" textLength="9.54" lengthAdjust="spacingAndGlyphs">0.0</text><line x1="268.35" y1="352.20" x2="268.35" y2="354.30" stroke="#000" stroke-width="0.7"/><text x="268.35" y="361.40" font-size="6.72" text-anchor="middle" textLength="9.54" lengthAdjust="spacingAndGlyphs">0.5</text><line x1="300.61" y1="352.20" x2="300.61" y2="354.30" stroke="#000" stroke-width="0.7"/><text x="300.61" y="361.40" font-size="6.72" text-anchor="middle" textLength="9.54" lengthAdjust="spacingAndGlyphs">1.0</text><text x="268.93" y="370.30" font-size="6.72" text-anchor="middle" textLength="58.01" lengthAdjust="spacingAndGlyphs">Standard Deviation</text><text transform="translate(216.45,276.80) rotate(-90)" x="0" y="0" font-size="6.72" text-anchor="middle" textLength="61.25" lengthAdjust="spacingAndGlyphs">Mean Absolute Error</text><text x="268.93" y="188.60" font-size="8.18" text-anchor="middle" textLength="29.68" lengthAdjust="spacingAndGlyphs">Dropout</text><text x="268.93" y="196.90" font-size="8.18" text-anchor="middle" textLength="60.88" lengthAdjust="spacingAndGlyphs">IS: 2.49 CE: 0.26</text></g>
<g><clipPath id="c15"><rect x="339.70" y="200.40" width="71.24" height="151.80"/></clipPath><polyline clip-path="url(#c15)" points="342.95,333.19 347.11,334.35 354.00,338.97 361.15,343.60 364.40,341.97 368.04,334.35 371.54,323.88 374.53,306.47 377.39,297.22 380.64,281.38 384.28,278.59 387.14,253.03 390.78,270.43 394.03,207.50 407.93,207.50" fill="none" stroke="#1f77b4" stroke-width="1.15" stroke-linejoin="round" stroke-linecap="square"/><polyline clip-path="url(#c15)" points="342.95,331.29 347.11,332.72 354.00,338.97 363.75,345.91 367.65,343.12 370.89,333.19 374.79,315.72 377.78,305.32 380.64,299.47 384.28,299.94 387.79,309.46 390.78,303.41 394.03,311.50 400.98,311.50 404.03,296.54 407.93,309.94" fill="none" stroke="#ff7f0e" stroke-width="1.15" stroke-linejoin="round" stroke-linecap="square"/><rect x="342.50" y="203.40" width="36.3" height="20.2" rx="1.3" fill="#fff" fill-opacity="0.8" stroke="#ccc" stroke-opacity="0.8" stroke-width="0.6"/><line x1="344.60" y1="208.50" x2="357.60" y2="208.50" stroke="#1f77b4" stroke-width="1.15" stroke-linecap="butt"/><text x="362.10" y="210.50" font-size="6.72" text-anchor="start" textLength="14.06" lengthAdjust="spacingAndGlyphs">Train</text><line x1="344.60" y1="217.50" x2="357.60" y2="217.50" stroke="#ff7f0e" stroke-width="1.15" stroke-linecap="butt"/><text x="362.10" y="219.50" font-size="6.72" text-anchor="start" textLength="11.81" lengthAdjust="spacingAndGlyphs">Test</text><rect x="339.70" y="200.40" width="71.24" height="151.80" fill="none" stroke="#3c3c3c" stroke-width="0.95"/><line x1="337.60" y1="337.34" x2="339.70" y2="337.34" stroke="#000" stroke-width="0.7"/><text x="335.80" y="340.04" font-size="6.72" text-anchor="end" textLength="13.36" lengthAdjust="spacingAndGlyphs">0.50</text><line x1="337.60" y1="320.34" x2="339.70" y2="320.34" stroke="#000" stroke-width="0.7"/><text x="335.80" y="323.04" font-size="6.72" text-anchor="end" textLength="13.36" lengthAdjust="spacingAndGlyphs">0.75</text><line x1="337.60" y1="303.34" x2="339.70" y2="303.34" stroke="#000" stroke-width="0.7"/><text x="335.80" y="306.04" font-size="6.72" text-anchor="end" textLength="13.36" lengthAdjust="spacingAndGlyphs">1.00</text><line x1="337.60" y1="286.34" x2="339.70" y2="286.34" stroke="#000" stroke-width="0.7"/><text x="335.80" y="289.04" font-size="6.72" text-anchor="end" textLength="13.36" lengthAdjust="spacingAndGlyphs">1.25</text><line x1="337.60" y1="269.35" x2="339.70" y2="269.35" stroke="#000" stroke-width="0.7"/><text x="335.80" y="272.05" font-size="6.72" text-anchor="end" textLength="13.36" lengthAdjust="spacingAndGlyphs">1.50</text><line x1="337.60" y1="252.35" x2="339.70" y2="252.35" stroke="#000" stroke-width="0.7"/><text x="335.80" y="255.05" font-size="6.72" text-anchor="end" textLength="13.36" lengthAdjust="spacingAndGlyphs">1.75</text><line x1="337.60" y1="235.35" x2="339.70" y2="235.35" stroke="#000" stroke-width="0.7"/><text x="335.80" y="238.05" font-size="6.72" text-anchor="end" textLength="13.36" lengthAdjust="spacingAndGlyphs">2.00</text><line x1="337.60" y1="218.35" x2="339.70" y2="218.35" stroke="#000" stroke-width="0.7"/><text x="335.80" y="221.05" font-size="6.72" text-anchor="end" textLength="13.36" lengthAdjust="spacingAndGlyphs">2.25</text><line x1="337.60" y1="201.35" x2="339.70" y2="201.35" stroke="#000" stroke-width="0.7"/><text x="335.80" y="204.05" font-size="6.72" text-anchor="end" textLength="13.36" lengthAdjust="spacingAndGlyphs">2.50</text><line x1="342.95" y1="352.20" x2="342.95" y2="354.30" stroke="#000" stroke-width="0.7"/><text x="342.95" y="361.40" font-size="6.72" text-anchor="middle" textLength="9.54" lengthAdjust="spacingAndGlyphs">0.0</text><line x1="375.44" y1="352.20" x2="375.44" y2="354.30" stroke="#000" stroke-width="0.7"/><text x="375.44" y="361.40" font-size="6.72" text-anchor="middle" textLength="9.54" lengthAdjust="spacingAndGlyphs">0.5</text><line x1="407.93" y1="352.20" x2="407.93" y2="354.30" stroke="#000" stroke-width="0.7"/><text x="407.93" y="361.40" font-size="6.72" text-anchor="middle" textLength="9.54" lengthAdjust="spacingAndGlyphs">1.0</text><text x="375.33" y="370.30" font-size="6.72" text-anchor="middle" textLength="58.01" lengthAdjust="spacingAndGlyphs">Standard Deviation</text><text transform="translate(318.80,276.80) rotate(-90)" x="0" y="0" font-size="6.72" text-anchor="middle" textLength="61.25" lengthAdjust="spacingAndGlyphs">Mean Absolute Error</text><text x="375.33" y="188.60" font-size="8.18" text-anchor="middle" textLength="46.82" lengthAdjust="spacingAndGlyphs">Dropconnect</text><text x="375.33" y="196.90" font-size="8.18" text-anchor="middle" textLength="60.88" lengthAdjust="spacingAndGlyphs">IS: 3.05 CE: 0.25</text></g>
<g><clipPath id="c16"><rect x="443.54" y="200.40" width="71.24" height="151.80"/></clipPath><polyline clip-path="url(#c16)" points="446.33,345.95 449.84,328.62 453.28,316.95 456.34,298.37 459.32,279.80 463.22,261.50 472.97,261.50 476.48,249.55 480.44,229.50 490.51,229.50 494.41,207.50 511.31,207.50" fill="none" stroke="#1f77b4" stroke-width="1.15" stroke-linejoin="round" stroke-linecap="square"/><polyline clip-path="url(#c16)" points="446.33,345.95 449.32,344.32 453.28,343.58 459.06,344.32 463.74,341.77 467.12,340.62 470.24,337.83 475.31,337.33 484.02,337.83 487.40,335.50 491.16,335.50 493.76,332.50 497.40,332.50 503.64,311.50 511.31,311.50" fill="none" stroke="#ff7f0e" stroke-width="1.15" stroke-linejoin="round" stroke-linecap="square"/><rect x="446.34" y="203.40" width="36.3" height="20.2" rx="1.3" fill="#fff" fill-opacity="0.8" stroke="#ccc" stroke-opacity="0.8" stroke-width="0.6"/><line x1="448.44" y1="208.50" x2="461.44" y2="208.50" stroke="#1f77b4" stroke-width="1.15" stroke-linecap="butt"/><text x="465.94" y="210.50" font-size="6.72" text-anchor="start" textLength="14.06" lengthAdjust="spacingAndGlyphs">Train</text><line x1="448.44" y1="217.50" x2="461.44" y2="217.50" stroke="#ff7f0e" stroke-width="1.15" stroke-linecap="butt"/><text x="465.94" y="219.50" font-size="6.72" text-anchor="start" textLength="11.81" lengthAdjust="spacingAndGlyphs">Test</text><rect x="443.54" y="200.40" width="71.24" height="151.80" fill="none" stroke="#3c3c3c" stroke-width="0.95"/><line x1="441.44" y1="320.40" x2="443.54" y2="320.40" stroke="#000" stroke-width="0.7"/><text x="439.64" y="323.10" font-size="6.72" text-anchor="end" textLength="3.82" lengthAdjust="spacingAndGlyphs">2</text><line x1="441.44" y1="287.52" x2="443.54" y2="287.52" stroke="#000" stroke-width="0.7"/><text x="439.64" y="290.22" font-size="6.72" text-anchor="end" textLength="3.82" lengthAdjust="spacingAndGlyphs">4</text><line x1="441.44" y1="254.65" x2="443.54" y2="254.65" stroke="#000" stroke-width="0.7"/><text x="439.64" y="257.35" font-size="6.72" text-anchor="end" textLength="3.82" lengthAdjust="spacingAndGlyphs">6</text><line x1="441.44" y1="221.77" x2="443.54" y2="221.77" stroke="#000" stroke-width="0.7"/><text x="439.64" y="224.47" font-size="6.72" text-anchor="end" textLength="3.82" lengthAdjust="spacingAndGlyphs">8</text><line x1="446.33" y1="352.20" x2="446.33" y2="354.30" stroke="#000" stroke-width="0.7"/><text x="446.33" y="361.40" font-size="6.72" text-anchor="middle" textLength="9.54" lengthAdjust="spacingAndGlyphs">0.0</text><line x1="478.82" y1="352.20" x2="478.82" y2="354.30" stroke="#000" stroke-width="0.7"/><text x="478.82" y="361.40" font-size="6.72" text-anchor="middle" textLength="9.54" lengthAdjust="spacingAndGlyphs">0.5</text><line x1="511.31" y1="352.20" x2="511.31" y2="354.30" stroke="#000" stroke-width="0.7"/><text x="511.31" y="361.40" font-size="6.72" text-anchor="middle" textLength="9.54" lengthAdjust="spacingAndGlyphs">1.0</text><text x="479.17" y="370.30" font-size="6.72" text-anchor="middle" textLength="58.01" lengthAdjust="spacingAndGlyphs">Standard Deviation</text><text transform="translate(432.18,276.80) rotate(-90)" x="0" y="0" font-size="6.72" text-anchor="middle" textLength="61.25" lengthAdjust="spacingAndGlyphs">Mean Absolute Error</text><text x="479.17" y="188.60" font-size="8.18" text-anchor="middle" textLength="22.10" lengthAdjust="spacingAndGlyphs">Bayes</text><text x="479.17" y="196.90" font-size="8.18" text-anchor="middle" textLength="60.88" lengthAdjust="spacingAndGlyphs">IS: 3.24 CE: 0.38</text></g>
<g><clipPath id="c17"><rect x="546.69" y="200.40" width="70.78" height="151.80"/></clipPath><polyline clip-path="url(#c17)" points="549.70,346.61 556.46,306.55 560.62,298.38 563.61,270.60 566.40,208.50 614.68,208.50" fill="none" stroke="#1f77b4" stroke-width="1.15" stroke-linejoin="round" stroke-linecap="square"/><polyline clip-path="url(#c17)" points="549.70,333.16 553.60,321.49 557.11,317.50 561.40,317.50 564.00,324.50 567.57,324.50 570.50,329.20 574.40,328.50 583.82,328.50 587.39,323.50 614.68,323.50" fill="none" stroke="#ff7f0e" stroke-width="1.15" stroke-linejoin="round" stroke-linecap="square"/><rect x="549.49" y="203.40" width="36.3" height="20.2" rx="1.3" fill="#fff" fill-opacity="0.8" stroke="#ccc" stroke-opacity="0.8" stroke-width="0.6"/><line x1="551.59" y1="208.50" x2="564.59" y2="208.50" stroke="#1f77b4" stroke-width="1.15" stroke-linecap="butt"/><text x="569.09" y="210.50" font-size="6.72" text-anchor="start" textLength="14.06" lengthAdjust="spacingAndGlyphs">Train</text><line x1="551.59" y1="217.50" x2="564.59" y2="217.50" stroke="#ff7f0e" stroke-width="1.15" stroke-linecap="butt"/><text x="569.09" y="219.50" font-size="6.72" text-anchor="start" textLength="11.81" lengthAdjust="spacingAndGlyphs">Test</text><rect x="546.69" y="200.40" width="70.78" height="151.80" fill="none" stroke="#3c3c3c" stroke-width="0.95"/><line x1="544.59" y1="333.16" x2="546.69" y2="333.16" stroke="#000" stroke-width="0.7"/><text x="542.79" y="335.86" font-size="6.72" text-anchor="end" textLength="9.54" lengthAdjust="spacingAndGlyphs">0.5</text><line x1="544.59" y1="309.82" x2="546.69" y2="309.82" stroke="#000" stroke-width="0.7"/><text x="542.79" y="312.52" font-size="6.72" text-anchor="end" textLength="9.54" lengthAdjust="spacingAndGlyphs">1.0</text><line x1="544.59" y1="286.47" x2="546.69" y2="286.47" stroke="#000" stroke-width="0.7"/><text x="542.79" y="289.17" font-size="6.72" text-anchor="end" textLength="9.54" lengthAdjust="spacingAndGlyphs">1.5</text><line x1="544.59" y1="263.13" x2="546.69" y2="263.13" stroke="#000" stroke-width="0.7"/><text x="542.79" y="265.83" font-size="6.72" text-anchor="end" textLength="9.54" lengthAdjust="spacingAndGlyphs">2.0</text><line x1="544.59" y1="239.78" x2="546.69" y2="239.78" stroke="#000" stroke-width="0.7"/><text x="542.79" y="242.48" font-size="6.72" text-anchor="end" textLength="9.54" lengthAdjust="spacingAndGlyphs">2.5</text><line x1="544.59" y1="216.43" x2="546.69" y2="216.43" stroke="#000" stroke-width="0.7"/><text x="542.79" y="219.13" font-size="6.72" text-anchor="end" textLength="9.54" lengthAdjust="spacingAndGlyphs">3.0</text><line x1="549.70" y1="352.20" x2="549.70" y2="354.30" stroke="#000" stroke-width="0.7"/><text x="549.70" y="361.40" font-size="6.72" text-anchor="middle" textLength="9.54" lengthAdjust="spacingAndGlyphs">0.0</text><line x1="582.19" y1="352.20" x2="582.19" y2="354.30" stroke="#000" stroke-width="0.7"/><text x="582.19" y="361.40" font-size="6.72" text-anchor="middle" textLength="9.54" lengthAdjust="spacingAndGlyphs">0.5</text><line x1="614.68" y1="352.20" x2="614.68" y2="354.30" stroke="#000" stroke-width="0.7"/><text x="614.68" y="361.40" font-size="6.72" text-anchor="middle" textLength="9.54" lengthAdjust="spacingAndGlyphs">1.0</text><text x="582.08" y="370.30" font-size="6.72" text-anchor="middle" textLength="58.01" lengthAdjust="spacingAndGlyphs">Standard Deviation</text><text transform="translate(529.60,276.80) rotate(-90)" x="0" y="0" font-size="6.72" text-anchor="middle" textLength="61.25" lengthAdjust="spacingAndGlyphs">Mean Absolute Error</text><text x="582.08" y="188.60" font-size="8.18" text-anchor="middle" textLength="24.84" lengthAdjust="spacingAndGlyphs">Flipout</text><text x="582.08" y="196.90" font-size="8.18" text-anchor="middle" textLength="60.88" lengthAdjust="spacingAndGlyphs">IS: 3.29 CE: 0.37</text></g>
<g><clipPath id="c18"><rect x="26.22" y="613.30" width="71.24" height="151.70"/></clipPath><polyline clip-path="url(#c18)" points="29.47,758.58 33.63,758.22 40.52,754.02 49.88,745.96 58.06,737.73 63.91,729.67 67.16,725.46 70.80,715.65 73.66,714.42 76.91,703.21 82.37,702.16 84.70,704.08 87.69,708.64 90.94,755.07 94.45,733.17" fill="none" stroke="#1f77b4" stroke-width="1.15" stroke-linejoin="round" stroke-linecap="square"/><polyline clip-path="url(#c18)" points="29.47,693.50 33.63,693.50 41.82,690.07 48.71,687.09 53.38,681.31 60.34,679.03 63.91,675.53 67.16,676.23 70.80,679.73 74.31,676.23 77.75,668.17 80.81,665.71 84.05,649.50 87.69,649.50 90.94,620.50 94.45,620.50" fill="none" stroke="#ff7f0e" stroke-width="1.15" stroke-linejoin="round" stroke-linecap="square"/><rect x="29.02" y="616.30" width="36.3" height="20.2" rx="1.3" fill="#fff" fill-opacity="0.8" stroke="#ccc" stroke-opacity="0.8" stroke-width="0.6"/><line x1="31.12" y1="621.50" x2="44.12" y2="621.50" stroke="#1f77b4" stroke-width="1.15" stroke-linecap="butt"/><text x="48.62" y="623.40" font-size="6.72" text-anchor="start" textLength="14.06" lengthAdjust="spacingAndGlyphs">Train</text><line x1="31.12" y1="630.50" x2="44.12" y2="630.50" stroke="#ff7f0e" stroke-width="1.15" stroke-linecap="butt"/><text x="48.62" y="632.40" font-size="6.72" text-anchor="start" textLength="11.81" lengthAdjust="spacingAndGlyphs">Test</text><rect x="26.22" y="613.30" width="71.24" height="151.70" fill="none" stroke="#3c3c3c" stroke-width="0.95"/><line x1="24.12" y1="763.48" x2="26.22" y2="763.48" stroke="#000" stroke-width="0.7"/><text x="22.32" y="766.18" font-size="6.72" text-anchor="end" textLength="9.54" lengthAdjust="spacingAndGlyphs">0.1</text><line x1="24.12" y1="745.96" x2="26.22" y2="745.96" stroke="#000" stroke-width="0.7"/><text x="22.32" y="748.66" font-size="6.72" text-anchor="end" textLength="9.54" lengthAdjust="spacingAndGlyphs">0.2</text><line x1="24.12" y1="728.44" x2="26.22" y2="728.44" stroke="#000" stroke-width="0.7"/><text x="22.32" y="731.14" font-size="6.72" text-anchor="end" textLength="9.54" lengthAdjust="spacingAndGlyphs">0.3</text><line x1="24.12" y1="710.92" x2="26.22" y2="710.92" stroke="#000" stroke-width="0.7"/><text x="22.32" y="713.62" font-size="6.72" text-anchor="end" textLength="9.54" lengthAdjust="spacingAndGlyphs">0.4</text><line x1="24.12" y1="693.40" x2="26.22" y2="693.40" stroke="#000" stroke-width="0.7"/><text x="22.32" y="696.10" font-size="6.72" text-anchor="end" textLength="9.54" lengthAdjust="spacingAndGlyphs">0.5</text><line x1="24.12" y1="675.88" x2="26.22" y2="675.88" stroke="#000" stroke-width="0.7"/><text x="22.32" y="678.58" font-size="6.72" text-anchor="end" textLength="9.54" lengthAdjust="spacingAndGlyphs">0.6</text><line x1="24.12" y1="658.35" x2="26.22" y2="658.35" stroke="#000" stroke-width="0.7"/><text x="22.32" y="661.05" font-size="6.72" text-anchor="end" textLength="9.54" lengthAdjust="spacingAndGlyphs">0.7</text><line x1="24.12" y1="640.83" x2="26.22" y2="640.83" stroke="#000" stroke-width="0.7"/><text x="22.32" y="643.53" font-size="6.72" text-anchor="end" textLength="9.54" lengthAdjust="spacingAndGlyphs">0.8</text><line x1="24.12" y1="623.31" x2="26.22" y2="623.31" stroke="#000" stroke-width="0.7"/><text x="22.32" y="626.01" font-size="6.72" text-anchor="end" textLength="9.54" lengthAdjust="spacingAndGlyphs">0.9</text><line x1="29.47" y1="765.00" x2="29.47" y2="767.10" stroke="#000" stroke-width="0.7"/><text x="29.47" y="774.20" font-size="6.72" text-anchor="middle" textLength="9.54" lengthAdjust="spacingAndGlyphs">0.0</text><line x1="61.96" y1="765.00" x2="61.96" y2="767.10" stroke="#000" stroke-width="0.7"/><text x="61.96" y="774.20" font-size="6.72" text-anchor="middle" textLength="9.54" lengthAdjust="spacingAndGlyphs">0.5</text><line x1="94.45" y1="765.00" x2="94.45" y2="767.10" stroke="#000" stroke-width="0.7"/><text x="94.45" y="774.20" font-size="6.72" text-anchor="middle" textLength="9.54" lengthAdjust="spacingAndGlyphs">1.0</text><text x="61.85" y="783.10" font-size="6.72" text-anchor="middle" textLength="58.01" lengthAdjust="spacingAndGlyphs">Standard Deviation</text><text transform="translate(9.13,689.65) rotate(-90)" x="0" y="0" font-size="6.72" text-anchor="middle" textLength="61.25" lengthAdjust="spacingAndGlyphs">Mean Absolute Error</text><text x="61.85" y="601.50" font-size="8.18" text-anchor="middle" textLength="77.78" lengthAdjust="spacingAndGlyphs">Baseline model LSTM</text><text x="61.85" y="609.80" font-size="8.18" text-anchor="middle" textLength="60.88" lengthAdjust="spacingAndGlyphs">IS: 2.84 CE: 0.28</text></g>
<g><clipPath id="c19"><rect x="130.17" y="613.30" width="71.24" height="151.70"/></clipPath><polyline clip-path="url(#c19)" points="133.19,758.50 140.58,758.50 147.58,756.98 154.52,753.56 163.81,748.68 167.22,745.87 171.47,740.14 176.57,737.69 181.22,734.28 184.69,736.60 188.16,735.37 191.69,722.68 195.16,735.50 198.63,735.50" fill="none" stroke="#1f77b4" stroke-width="1.15" stroke-linejoin="round" stroke-linecap="square"/><polyline clip-path="url(#c19)" points="133.19,724.50 136.00,724.50 144.11,721.95 146.27,721.46 153.47,714.99 161.52,708.76 164.27,707.54 168.52,701.81 174.28,690.09 177.29,673.85 184.69,657.13 188.16,692.04 191.69,628.69 195.16,625.88 198.63,619.29" fill="none" stroke="#ff7f0e" stroke-width="1.15" stroke-linejoin="round" stroke-linecap="square"/><rect x="132.97" y="616.30" width="36.3" height="20.2" rx="1.3" fill="#fff" fill-opacity="0.8" stroke="#ccc" stroke-opacity="0.8" stroke-width="0.6"/><line x1="135.07" y1="621.50" x2="148.07" y2="621.50" stroke="#1f77b4" stroke-width="1.15" stroke-linecap="butt"/><text x="152.57" y="623.40" font-size="6.72" text-anchor="start" textLength="14.06" lengthAdjust="spacingAndGlyphs">Train</text><line x1="135.07" y1="630.50" x2="148.07" y2="630.50" stroke="#ff7f0e" stroke-width="1.15" stroke-linecap="butt"/><text x="152.57" y="632.40" font-size="6.72" text-anchor="start" textLength="11.81" lengthAdjust="spacingAndGlyphs">Test</text><rect x="130.17" y="613.30" width="71.24" height="151.70" fill="none" stroke="#3c3c3c" stroke-width="0.95"/><line x1="128.07" y1="752.34" x2="130.17" y2="752.34" stroke="#000" stroke-width="0.7"/><text x="126.27" y="755.04" font-size="6.72" text-anchor="end" textLength="9.54" lengthAdjust="spacingAndGlyphs">0.2</text><line x1="128.07" y1="727.93" x2="130.17" y2="727.93" stroke="#000" stroke-width="0.7"/><text x="126.27" y="730.63" font-size="6.72" text-anchor="end" textLength="9.54" lengthAdjust="spacingAndGlyphs">0.4</text><line x1="128.07" y1="703.51" x2="130.17" y2="703.51" stroke="#000" stroke-width="0.7"/><text x="126.27" y="706.21" font-size="6.72" text-anchor="end" textLength="9.54" lengthAdjust="spacingAndGlyphs">0.6</text><line x1="128.07" y1="679.10" x2="130.17" y2="679.10" stroke="#000" stroke-width="0.7"/><text x="126.27" y="681.80" font-size="6.72" text-anchor="end" textLength="9.54" lengthAdjust="spacingAndGlyphs">0.8</text><line x1="128.07" y1="654.69" x2="130.17" y2="654.69" stroke="#000" stroke-width="0.7"/><text x="126.27" y="657.39" font-size="6.72" text-anchor="end" textLength="9.54" lengthAdjust="spacingAndGlyphs">1.0</text><line x1="128.07" y1="630.27" x2="130.17" y2="630.27" stroke="#000" stroke-width="0.7"/><text x="126.27" y="632.97" font-size="6.72" text-anchor="end" textLength="9.54" lengthAdjust="spacingAndGlyphs">1.2</text><line x1="133.19" y1="765.00" x2="133.19" y2="767.10" stroke="#000" stroke-width="0.7"/><text x="133.19" y="774.20" font-size="6.72" text-anchor="middle" textLength="9.54" lengthAdjust="spacingAndGlyphs">0.0</text><line x1="165.91" y1="765.00" x2="165.91" y2="767.10" stroke="#000" stroke-width="0.7"/><text x="165.91" y="774.20" font-size="6.72" text-anchor="middle" textLength="9.54" lengthAdjust="spacingAndGlyphs">0.5</text><line x1="198.63" y1="765.00" x2="198.63" y2="767.10" stroke="#000" stroke-width="0.7"/><text x="198.63" y="774.20" font-size="6.72" text-anchor="middle" textLength="9.54" lengthAdjust="spacingAndGlyphs">1.0</text><text x="165.79" y="783.10" font-size="6.72" text-anchor="middle" textLength="58.01" lengthAdjust="spacingAndGlyphs">Standard Deviation</text><text transform="translate(113.08,689.65) rotate(-90)" x="0" y="0" font-size="6.72" text-anchor="middle" textLength="61.25" lengthAdjust="spacingAndGlyphs">Mean Absolute Error</text><text x="165.79" y="601.50" font-size="8.18" text-anchor="middle" textLength="57.58" lengthAdjust="spacingAndGlyphs">Ensemble LSTM</text><text x="165.79" y="609.80" font-size="8.18" text-anchor="middle" textLength="60.88" lengthAdjust="spacingAndGlyphs">IS: 1.92 CE: 0.17</text></g>
<g><clipPath id="c20"><rect x="234.01" y="613.30" width="71.24" height="151.70"/></clipPath><polyline clip-path="url(#c20)" points="237.03,740.53 243.31,740.71 251.42,741.61 258.36,745.21 261.89,745.93 267.65,747.72 272.30,748.50 275.77,748.50 280.41,751.68 285.06,754.38 288.07,741.25 292.00,738.37 295.53,758.50 302.47,758.50" fill="none" stroke="#1f77b4" stroke-width="1.15" stroke-linejoin="round" stroke-linecap="square"/><polyline clip-path="url(#c20)" points="237.03,692.51 243.31,693.59 250.11,694.13 254.89,694.85 260.72,694.31 265.36,684.42 268.11,682.08 271.12,680.46 274.59,670.39 278.78,655.82 281.53,657.26 285.06,655.82 288.53,644.85 292.00,620.03 295.53,641.43 299.00,628.66 302.47,680.82" fill="none" stroke="#ff7f0e" stroke-width="1.15" stroke-linejoin="round" stroke-linecap="square"/><rect x="236.81" y="616.30" width="36.3" height="20.2" rx="1.3" fill="#fff" fill-opacity="0.8" stroke="#ccc" stroke-opacity="0.8" stroke-width="0.6"/><line x1="238.91" y1="621.50" x2="251.91" y2="621.50" stroke="#1f77b4" stroke-width="1.15" stroke-linecap="butt"/><text x="256.41" y="623.40" font-size="6.72" text-anchor="start" textLength="14.06" lengthAdjust="spacingAndGlyphs">Train</text><line x1="238.91" y1="630.50" x2="251.91" y2="630.50" stroke="#ff7f0e" stroke-width="1.15" stroke-linecap="butt"/><text x="256.41" y="632.40" font-size="6.72" text-anchor="start" textLength="11.81" lengthAdjust="spacingAndGlyphs">Test</text><rect x="234.01" y="613.30" width="71.24" height="151.70" fill="none" stroke="#3c3c3c" stroke-width="0.95"/><line x1="231.91" y1="761.39" x2="234.01" y2="761.39" stroke="#000" stroke-width="0.7"/><text x="230.11" y="764.09" font-size="6.72" text-anchor="end" textLength="9.54" lengthAdjust="spacingAndGlyphs">0.1</text><line x1="231.91" y1="743.41" x2="234.01" y2="743.41" stroke="#000" stroke-width="0.7"/><text x="230.11" y="746.11" font-size="6.72" text-anchor="end" textLength="9.54" lengthAdjust="spacingAndGlyphs">0.2</text><line x1="231.91" y1="725.42" x2="234.01" y2="725.42" stroke="#000" stroke-width="0.7"/><text x="230.11" y="728.12" font-size="6.72" text-anchor="end" textLength="9.54" lengthAdjust="spacingAndGlyphs">0.3</text><line x1="231.91" y1="707.44" x2="234.01" y2="707.44" stroke="#000" stroke-width="0.7"/><text x="230.11" y="710.14" font-size="6.72" text-anchor="end" textLength="9.54" lengthAdjust="spacingAndGlyphs">0.4</text><line x1="231.91" y1="689.45" x2="234.01" y2="689.45" stroke="#000" stroke-width="0.7"/><text x="230.11" y="692.15" font-size="6.72" text-anchor="end" textLength="9.54" lengthAdjust="spacingAndGlyphs">0.5</text><line x1="231.91" y1="671.47" x2="234.01" y2="671.47" stroke="#000" stroke-width="0.7"/><text x="230.11" y="674.17" font-size="6.72" text-anchor="end" textLength="9.54" lengthAdjust="spacingAndGlyphs">0.6</text><line x1="231.91" y1="653.48" x2="234.01" y2="653.48" stroke="#000" stroke-width="0.7"/><text x="230.11" y="656.18" font-size="6.72" text-anchor="end" textLength="9.54" lengthAdjust="spacingAndGlyphs">0.7</text><line x1="231.91" y1="635.50" x2="234.01" y2="635.50" stroke="#000" stroke-width="0.7"/><text x="230.11" y="638.20" font-size="6.72" text-anchor="end" textLength="9.54" lengthAdjust="spacingAndGlyphs">0.8</text><line x1="231.91" y1="617.51" x2="234.01" y2="617.51" stroke="#000" stroke-width="0.7"/><text x="230.11" y="620.21" font-size="6.72" text-anchor="end" textLength="9.54" lengthAdjust="spacingAndGlyphs">0.9</text><line x1="237.03" y1="765.00" x2="237.03" y2="767.10" stroke="#000" stroke-width="0.7"/><text x="237.03" y="774.20" font-size="6.72" text-anchor="middle" textLength="9.54" lengthAdjust="spacingAndGlyphs">0.0</text><line x1="269.75" y1="765.00" x2="269.75" y2="767.10" stroke="#000" stroke-width="0.7"/><text x="269.75" y="774.20" font-size="6.72" text-anchor="middle" textLength="9.54" lengthAdjust="spacingAndGlyphs">0.5</text><line x1="302.47" y1="765.00" x2="302.47" y2="767.10" stroke="#000" stroke-width="0.7"/><text x="302.47" y="774.20" font-size="6.72" text-anchor="middle" textLength="9.54" lengthAdjust="spacingAndGlyphs">1.0</text><text x="269.63" y="783.10" font-size="6.72" text-anchor="middle" textLength="58.01" lengthAdjust="spacingAndGlyphs">Standard Deviation</text><text transform="translate(216.92,689.65) rotate(-90)" x="0" y="0" font-size="6.72" text-anchor="middle" textLength="61.25" lengthAdjust="spacingAndGlyphs">Mean Absolute Error</text><text x="269.63" y="601.50" font-size="8.18" text-anchor="middle" textLength="51.46" lengthAdjust="spacingAndGlyphs">Dropout LSTM</text><text x="269.63" y="609.80" font-size="8.18" text-anchor="middle" textLength="60.88" lengthAdjust="spacingAndGlyphs">IS: 2.83 CE: 0.30</text></g>
<g><clipPath id="c21"><rect x="337.85" y="613.30" width="71.48" height="151.70"/></clipPath><polyline clip-path="url(#c21)" points="340.86,758.67 347.15,758.14 356.44,756.93 363.38,755.53 370.31,756.23 379.61,753.97 386.68,751.70 392.37,747.00 399.37,755.18 402.84,741.26 406.31,753.44" fill="none" stroke="#1f77b4" stroke-width="1.15" stroke-linejoin="round" stroke-linecap="square"/><polyline clip-path="url(#c21)" points="340.86,721.42 344.33,722.11 350.62,727.68 358.73,734.30 365.73,738.48 369.20,740.50 372.67,740.50 377.32,735.34 383.08,726.12 388.90,708.19 392.37,716.89 395.84,719.16 399.37,700.53 402.84,619.95 406.31,668.86" fill="none" stroke="#ff7f0e" stroke-width="1.15" stroke-linejoin="round" stroke-linecap="square"/><rect x="340.65" y="616.30" width="36.3" height="20.2" rx="1.3" fill="#fff" fill-opacity="0.8" stroke="#ccc" stroke-opacity="0.8" stroke-width="0.6"/><line x1="342.75" y1="621.50" x2="355.75" y2="621.50" stroke="#1f77b4" stroke-width="1.15" stroke-linecap="butt"/><text x="360.25" y="623.40" font-size="6.72" text-anchor="start" textLength="14.06" lengthAdjust="spacingAndGlyphs">Train</text><line x1="342.75" y1="630.50" x2="355.75" y2="630.50" stroke="#ff7f0e" stroke-width="1.15" stroke-linecap="butt"/><text x="360.25" y="632.40" font-size="6.72" text-anchor="start" textLength="11.81" lengthAdjust="spacingAndGlyphs">Test</text><rect x="337.85" y="613.30" width="71.48" height="151.70" fill="none" stroke="#3c3c3c" stroke-width="0.95"/><line x1="335.75" y1="764.41" x2="337.85" y2="764.41" stroke="#000" stroke-width="0.7"/><text x="333.95" y="767.11" font-size="6.72" text-anchor="end" textLength="9.54" lengthAdjust="spacingAndGlyphs">0.2</text><line x1="335.75" y1="747.00" x2="337.85" y2="747.00" stroke="#000" stroke-width="0.7"/><text x="333.95" y="749.70" font-size="6.72" text-anchor="end" textLength="9.54" lengthAdjust="spacingAndGlyphs">0.3</text><line x1="335.75" y1="729.60" x2="337.85" y2="729.60" stroke="#000" stroke-width="0.7"/><text x="333.95" y="732.30" font-size="6.72" text-anchor="end" textLength="9.54" lengthAdjust="spacingAndGlyphs">0.4</text><line x1="335.75" y1="712.19" x2="337.85" y2="712.19" stroke="#000" stroke-width="0.7"/><text x="333.95" y="714.89" font-size="6.72" text-anchor="end" textLength="9.54" lengthAdjust="spacingAndGlyphs">0.5</text><line x1="335.75" y1="694.79" x2="337.85" y2="694.79" stroke="#000" stroke-width="0.7"/><text x="333.95" y="697.49" font-size="6.72" text-anchor="end" textLength="9.54" lengthAdjust="spacingAndGlyphs">0.6</text><line x1="335.75" y1="677.38" x2="337.85" y2="677.38" stroke="#000" stroke-width="0.7"/><text x="333.95" y="680.08" font-size="6.72" text-anchor="end" textLength="9.54" lengthAdjust="spacingAndGlyphs">0.7</text><line x1="335.75" y1="659.98" x2="337.85" y2="659.98" stroke="#000" stroke-width="0.7"/><text x="333.95" y="662.68" font-size="6.72" text-anchor="end" textLength="9.54" lengthAdjust="spacingAndGlyphs">0.8</text><line x1="335.75" y1="642.57" x2="337.85" y2="642.57" stroke="#000" stroke-width="0.7"/><text x="333.95" y="645.27" font-size="6.72" text-anchor="end" textLength="9.54" lengthAdjust="spacingAndGlyphs">0.9</text><line x1="335.75" y1="625.17" x2="337.85" y2="625.17" stroke="#000" stroke-width="0.7"/><text x="333.95" y="627.87" font-size="6.72" text-anchor="end" textLength="9.54" lengthAdjust="spacingAndGlyphs">1.0</text><line x1="340.86" y1="765.00" x2="340.86" y2="767.10" stroke="#000" stroke-width="0.7"/><text x="340.86" y="774.20" font-size="6.72" text-anchor="middle" textLength="9.54" lengthAdjust="spacingAndGlyphs">0.0</text><line x1="373.59" y1="765.00" x2="373.59" y2="767.10" stroke="#000" stroke-width="0.7"/><text x="373.59" y="774.20" font-size="6.72" text-anchor="middle" textLength="9.54" lengthAdjust="spacingAndGlyphs">0.5</text><line x1="406.31" y1="765.00" x2="406.31" y2="767.10" stroke="#000" stroke-width="0.7"/><text x="406.31" y="774.20" font-size="6.72" text-anchor="middle" textLength="9.54" lengthAdjust="spacingAndGlyphs">1.0</text><text x="373.59" y="783.10" font-size="6.72" text-anchor="middle" textLength="58.01" lengthAdjust="spacingAndGlyphs">Standard Deviation</text><text transform="translate(320.76,689.65) rotate(-90)" x="0" y="0" font-size="6.72" text-anchor="middle" textLength="61.25" lengthAdjust="spacingAndGlyphs">Mean Absolute Error</text><text x="373.59" y="601.50" font-size="8.18" text-anchor="middle" textLength="68.60" lengthAdjust="spacingAndGlyphs">Dropconnect LSTM</text><text x="373.59" y="609.80" font-size="8.18" text-anchor="middle" textLength="60.88" lengthAdjust="spacingAndGlyphs">IS: 2.28 CE: 0.17</text></g>
<g><clipPath id="c22"><rect x="442.15" y="613.30" width="71.48" height="151.70"/></clipPath><polyline clip-path="url(#c22)" points="445.17,758.60 448.68,740.07 452.12,731.98 455.57,716.85 461.41,697.15 464.92,680.78 468.82,662.74 471.81,661.70 475.71,654.86 478.83,652.58 482.21,642.63 486.50,635.58 489.35,633.92 492.60,629.50 496.24,629.50 499.75,632.47 503.65,620.50 510.15,620.50" fill="none" stroke="#1f77b4" stroke-width="1.15" stroke-linejoin="round" stroke-linecap="square"/><polyline clip-path="url(#c22)" points="445.17,758.60 448.68,748.15 453.29,742.97 459.07,733.02 462.58,722.65 465.57,708.14 469.54,703.50 473.11,703.50 475.71,693.63 478.83,649.50 510.15,649.50" fill="none" stroke="#ff7f0e" stroke-width="1.15" stroke-linejoin="round" stroke-linecap="square"/><rect x="444.95" y="616.30" width="36.3" height="20.2" rx="1.3" fill="#fff" fill-opacity="0.8" stroke="#ccc" stroke-opacity="0.8" stroke-width="0.6"/><line x1="447.05" y1="621.50" x2="460.05" y2="621.50" stroke="#1f77b4" stroke-width="1.15" stroke-linecap="butt"/><text x="464.55" y="623.40" font-size="6.72" text-anchor="start" textLength="14.06" lengthAdjust="spacingAndGlyphs">Train</text><line x1="447.05" y1="630.50" x2="460.05" y2="630.50" stroke="#ff7f0e" stroke-width="1.15" stroke-linecap="butt"/><text x="464.55" y="632.40" font-size="6.72" text-anchor="start" textLength="11.81" lengthAdjust="spacingAndGlyphs">Test</text><rect x="442.15" y="613.30" width="71.48" height="151.70" fill="none" stroke="#3c3c3c" stroke-width="0.95"/><line x1="440.05" y1="755.82" x2="442.15" y2="755.82" stroke="#000" stroke-width="0.7"/><text x="438.25" y="758.52" font-size="6.72" text-anchor="end" textLength="3.82" lengthAdjust="spacingAndGlyphs">1</text><line x1="440.05" y1="735.09" x2="442.15" y2="735.09" stroke="#000" stroke-width="0.7"/><text x="438.25" y="737.79" font-size="6.72" text-anchor="end" textLength="3.82" lengthAdjust="spacingAndGlyphs">2</text><line x1="440.05" y1="714.36" x2="442.15" y2="714.36" stroke="#000" stroke-width="0.7"/><text x="438.25" y="717.06" font-size="6.72" text-anchor="end" textLength="3.82" lengthAdjust="spacingAndGlyphs">3</text><line x1="440.05" y1="693.63" x2="442.15" y2="693.63" stroke="#000" stroke-width="0.7"/><text x="438.25" y="696.33" font-size="6.72" text-anchor="end" textLength="3.82" lengthAdjust="spacingAndGlyphs">4</text><line x1="440.05" y1="672.90" x2="442.15" y2="672.90" stroke="#000" stroke-width="0.7"/><text x="438.25" y="675.60" font-size="6.72" text-anchor="end" textLength="3.82" lengthAdjust="spacingAndGlyphs">5</text><line x1="440.05" y1="652.17" x2="442.15" y2="652.17" stroke="#000" stroke-width="0.7"/><text x="438.25" y="654.87" font-size="6.72" text-anchor="end" textLength="3.82" lengthAdjust="spacingAndGlyphs">6</text><line x1="440.05" y1="631.43" x2="442.15" y2="631.43" stroke="#000" stroke-width="0.7"/><text x="438.25" y="634.13" font-size="6.72" text-anchor="end" textLength="3.82" lengthAdjust="spacingAndGlyphs">7</text><line x1="445.17" y1="765.00" x2="445.17" y2="767.10" stroke="#000" stroke-width="0.7"/><text x="445.17" y="774.20" font-size="6.72" text-anchor="middle" textLength="9.54" lengthAdjust="spacingAndGlyphs">0.0</text><line x1="477.66" y1="765.00" x2="477.66" y2="767.10" stroke="#000" stroke-width="0.7"/><text x="477.66" y="774.20" font-size="6.72" text-anchor="middle" textLength="9.54" lengthAdjust="spacingAndGlyphs">0.5</text><line x1="510.15" y1="765.00" x2="510.15" y2="767.10" stroke="#000" stroke-width="0.7"/><text x="510.15" y="774.20" font-size="6.72" text-anchor="middle" textLength="9.54" lengthAdjust="spacingAndGlyphs">1.0</text><text x="477.89" y="783.10" font-size="6.72" text-anchor="middle" textLength="58.01" lengthAdjust="spacingAndGlyphs">Standard Deviation</text><text transform="translate(430.78,689.65) rotate(-90)" x="0" y="0" font-size="6.72" text-anchor="middle" textLength="61.25" lengthAdjust="spacingAndGlyphs">Mean Absolute Error</text><text x="477.89" y="601.50" font-size="8.18" text-anchor="middle" textLength="43.87" lengthAdjust="spacingAndGlyphs">Bayes LSTM</text><text x="477.89" y="609.80" font-size="8.18" text-anchor="middle" textLength="60.88" lengthAdjust="spacingAndGlyphs">IS: 7.10 CE: 0.43</text></g>
<g><clipPath id="c23"><rect x="546.22" y="613.30" width="71.24" height="151.70"/></clipPath><polyline clip-path="url(#c23)" points="549.01,758.65 552.49,726.08 557.15,706.44 559.45,695.98 562.93,682.10 567.59,672.70 573.83,661.17 576.85,647.50 589.60,647.50 596.56,632.50 603.52,632.50 607.72,620.50 614.68,620.50" fill="none" stroke="#1f77b4" stroke-width="1.15" stroke-linejoin="round" stroke-linecap="square"/><polyline clip-path="url(#c23)" points="549.01,758.65 552.49,745.36 555.97,741.50 562.93,741.50 566.41,739.36 569.89,733.50 594.26,733.50 597.28,729.50 614.68,729.50" fill="none" stroke="#ff7f0e" stroke-width="1.15" stroke-linejoin="round" stroke-linecap="square"/><rect x="549.02" y="616.30" width="36.3" height="20.2" rx="1.3" fill="#fff" fill-opacity="0.8" stroke="#ccc" stroke-opacity="0.8" stroke-width="0.6"/><line x1="551.12" y1="621.50" x2="564.12" y2="621.50" stroke="#1f77b4" stroke-width="1.15" stroke-linecap="butt"/><text x="568.62" y="623.40" font-size="6.72" text-anchor="start" textLength="14.06" lengthAdjust="spacingAndGlyphs">Train</text><line x1="551.12" y1="630.50" x2="564.12" y2="630.50" stroke="#ff7f0e" stroke-width="1.15" stroke-linecap="butt"/><text x="568.62" y="632.40" font-size="6.72" text-anchor="start" textLength="11.81" lengthAdjust="spacingAndGlyphs">Test</text><rect x="546.22" y="613.30" width="71.24" height="151.70" fill="none" stroke="#3c3c3c" stroke-width="0.95"/><line x1="544.12" y1="764.41" x2="546.22" y2="764.41" stroke="#000" stroke-width="0.7"/><text x="542.32" y="767.11" font-size="6.72" text-anchor="end" textLength="3.82" lengthAdjust="spacingAndGlyphs">0</text><line x1="544.12" y1="740.89" x2="546.22" y2="740.89" stroke="#000" stroke-width="0.7"/><text x="542.32" y="743.59" font-size="6.72" text-anchor="end" textLength="3.82" lengthAdjust="spacingAndGlyphs">2</text><line x1="544.12" y1="717.38" x2="546.22" y2="717.38" stroke="#000" stroke-width="0.7"/><text x="542.32" y="720.08" font-size="6.72" text-anchor="end" textLength="3.82" lengthAdjust="spacingAndGlyphs">4</text><line x1="544.12" y1="693.86" x2="546.22" y2="693.86" stroke="#000" stroke-width="0.7"/><text x="542.32" y="696.56" font-size="6.72" text-anchor="end" textLength="3.82" lengthAdjust="spacingAndGlyphs">6</text><line x1="544.12" y1="670.34" x2="546.22" y2="670.34" stroke="#000" stroke-width="0.7"/><text x="542.32" y="673.04" font-size="6.72" text-anchor="end" textLength="3.82" lengthAdjust="spacingAndGlyphs">8</text><line x1="544.12" y1="646.83" x2="546.22" y2="646.83" stroke="#000" stroke-width="0.7"/><text x="542.32" y="649.53" font-size="6.72" text-anchor="end" textLength="7.63" lengthAdjust="spacingAndGlyphs">10</text><line x1="544.12" y1="623.31" x2="546.22" y2="623.31" stroke="#000" stroke-width="0.7"/><text x="542.32" y="626.01" font-size="6.72" text-anchor="end" textLength="7.63" lengthAdjust="spacingAndGlyphs">12</text><line x1="549.01" y1="765.00" x2="549.01" y2="767.10" stroke="#000" stroke-width="0.7"/><text x="549.01" y="774.20" font-size="6.72" text-anchor="middle" textLength="9.54" lengthAdjust="spacingAndGlyphs">0.0</text><line x1="581.85" y1="765.00" x2="581.85" y2="767.10" stroke="#000" stroke-width="0.7"/><text x="581.85" y="774.20" font-size="6.72" text-anchor="middle" textLength="9.54" lengthAdjust="spacingAndGlyphs">0.5</text><line x1="614.68" y1="765.00" x2="614.68" y2="767.10" stroke="#000" stroke-width="0.7"/><text x="614.68" y="774.20" font-size="6.72" text-anchor="middle" textLength="9.54" lengthAdjust="spacingAndGlyphs">1.0</text><text x="581.85" y="783.10" font-size="6.72" text-anchor="middle" textLength="58.01" lengthAdjust="spacingAndGlyphs">Standard Deviation</text><text transform="translate(531.04,689.65) rotate(-90)" x="0" y="0" font-size="6.72" text-anchor="middle" textLength="61.25" lengthAdjust="spacingAndGlyphs">Mean Absolute Error</text><text x="581.85" y="601.50" font-size="8.18" text-anchor="middle" textLength="46.62" lengthAdjust="spacingAndGlyphs">Flipout LSTM</text><text x="581.85" y="609.80" font-size="8.18" text-anchor="middle" textLength="60.88" lengthAdjust="spacingAndGlyphs">IS: 3.16 CE: 0.35</text></g>
<text x="248" y="402.7" class="serif" font-size="20.2">(a) MLP models</text>
<text x="242" y="815.0" class="serif" font-size="20.2">(b) LSTM models</text>
<text y="852.0" class="serif" font-size="20"><tspan x="1">M</tspan><tspan x="16.2">L</tspan><tspan x="33.2">P</tspan><tspan x="75.4">d</tspan><tspan x="94.7">L</tspan><tspan x="109.7">S</tspan><tspan x="119.7">T</tspan><tspan x="133.5">M</tspan><tspan x="191.9">d</tspan><tspan x="213.3">l</tspan><tspan x="354.0">l</tspan><tspan x="402.6">l</tspan><tspan x="410.2">l</tspan><tspan x="415.8">l</tspan><tspan x="452.6">l</tspan><tspan x="481">/</tspan><tspan x="505.2">l</tspan><tspan x="510.8">i</tspan><tspan x="527.1">b</tspan><tspan x="540.6">i</tspan><tspan x="546.2">l</tspan><tspan x="551.8">i</tspan><tspan x="593.6">l</tspan><tspan x="634">(</tspan></text>
</svg>
</body></html>
